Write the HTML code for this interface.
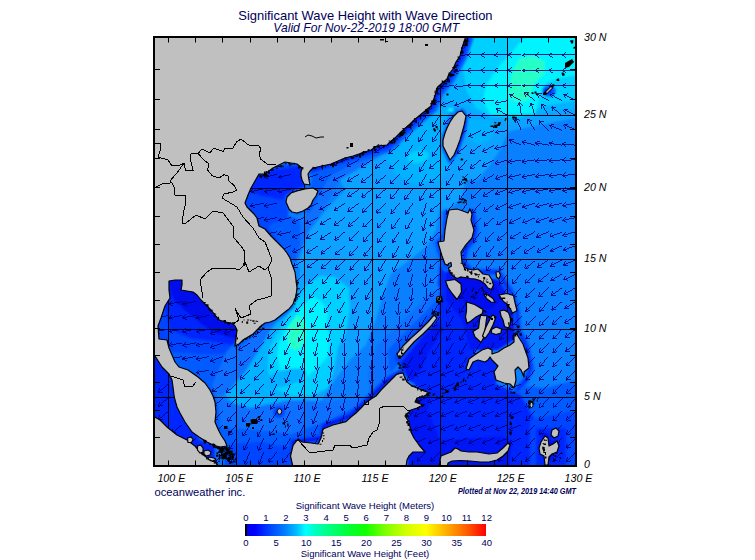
<!DOCTYPE html>
<html><head><meta charset="utf-8"><title>Significant Wave Height</title>
<style>
html,body{margin:0;padding:0;background:#fff;}
body{width:755px;height:560px;overflow:hidden;font-family:"Liberation Sans",sans-serif;}
svg{display:block}
text{font-family:"Liberation Sans",sans-serif;}
</style></head><body>
<svg width="755" height="560" viewBox="0 0 755 560">
<defs>
<clipPath id="mapclip"><rect x="154" y="37" width="422" height="429"/></clipPath>
<filter id="b1" x="-20%" y="-20%" width="140%" height="140%"><feGaussianBlur stdDeviation="1.0"/></filter>
<filter id="b2" x="-20%" y="-20%" width="140%" height="140%"><feGaussianBlur stdDeviation="3"/></filter>
<linearGradient id="cbar" x1="0" x2="1" y1="0" y2="0">
<stop offset="0.0000" stop-color="#0000e8"/>
<stop offset="0.0417" stop-color="#0000ff"/>
<stop offset="0.0833" stop-color="#0030ff"/>
<stop offset="0.1667" stop-color="#0080ff"/>
<stop offset="0.2167" stop-color="#00c0ff"/>
<stop offset="0.2500" stop-color="#00ffff"/>
<stop offset="0.2917" stop-color="#00ffc0"/>
<stop offset="0.3333" stop-color="#00ff90"/>
<stop offset="0.4167" stop-color="#00ff40"/>
<stop offset="0.5000" stop-color="#10ff00"/>
<stop offset="0.5833" stop-color="#80ff00"/>
<stop offset="0.6667" stop-color="#d0ff00"/>
<stop offset="0.7500" stop-color="#ffff00"/>
<stop offset="0.8000" stop-color="#ffd000"/>
<stop offset="0.8333" stop-color="#ffb000"/>
<stop offset="0.9167" stop-color="#ff6000"/>
<stop offset="1.0000" stop-color="#ff0000"/>
</linearGradient>
</defs>
<rect width="755" height="560" fill="#fff"/>
<g clip-path="url(#mapclip)">
<rect x="153" y="36" width="424" height="431" fill="#0a80ff"/>
<g filter="url(#b1)">

<path d="M335,172 L377,150 L400,150 L425,140 L445,150 L447,175 L441,200 L436,230 L427,246 L410,260 L391,274 L383,295 L376,320 L366,345 L350,360 L335,380 L322,400 L290,412 L255,398 L240,375 L250,350 L270,330 L296,300 L300,270 L295,255 L310,230 L330,205 L345,190Z" fill="#08a2ff"/>
<path d="M440,150 L462,150 L466,175 L463,196 L452,207 L441,212Z" fill="#08a2ff"/>
<path d="M436,90 L455,60 L466,36 L577,36 L577,118 L545,124 L507,132 L470,140 L466,112 L455,108 L440,118 L425,135 L410,150 L395,150 L400,135 L420,112Z" fill="#08a2ff"/>
<path d="M450,80 L462,50 L470,36 L577,36 L577,108 L540,114 L505,124 L480,118 L468,108 L456,104 L445,100Z" fill="#00b2ff"/>
<path d="M462,60 L470,36 L577,36 L577,100 L545,106 L520,117 L492,117 L476,108 L466,90Z" fill="#00d0ff"/>
<path d="M486,85 L500,65 L525,37 L577,37 L577,75 L560,78 L548,82 L540,95 L535,114 L490,114 L483,100Z" fill="#04f4ff"/>
<path d="M513,70 L520,58 L535,56 L545,62 L544,74 L534,84 L529,100 L518,102 L508,98 L510,84Z" fill="#28ffc8"/>
<ellipse cx="549" cy="91" rx="7" ry="6" fill="#005cff" transform="rotate(0 549 91)"/>
<ellipse cx="548" cy="91" rx="4" ry="3" fill="#0028ff" transform="rotate(0 548 91)"/>
<path d="M405,135 L420,122 L440,105 L452,106 L446,122 L442,140 L446,155 L450,165 L440,180 L415,185 L395,175 L388,160 L392,148Z" fill="#00b2ff"/>
<path d="M466,115 L507,118 L507,135 L500,150 L490,165 L478,180 L462,180 L455,162 L462,140Z" fill="#08a2ff"/>
<path d="M468,118 L492,119 L492,138 L480,146 L468,140Z" fill="#00b2ff"/>
<ellipse cx="451" cy="110" rx="3" ry="2" fill="#04f4ff" transform="rotate(0 451 110)"/>
<ellipse cx="417" cy="157" rx="16" ry="9" fill="#00b2ff" transform="rotate(-10 417 157)"/>
<ellipse cx="418" cy="157" rx="11" ry="6" fill="#00d0ff" transform="rotate(-10 418 157)"/>
<path d="M250,345 L270,330 L290,312 L306,285 L320,276 L335,278 L348,288 L345,321 L327,337 L317,368 L309,383 L300,400 L270,412 L240,410 L225,395 L235,372Z" fill="#00b2ff"/>
<path d="M278,332 L290,312 L306,285 L320,276 L335,277 L349,288 L350,310 L346,332 L338,348 L334,370 L328,388 L312,396 L290,396 L274,388 L268,372 L268,350Z" fill="#00d0ff"/>
<path d="M313,296 L322,302 L328,312 L327,326 L330,340 L328,356 L318,368 L304,378 L290,381 L281,372 L277,356 L279,342 L285,330 L293,318 L302,306Z" fill="#04f4ff"/>
<path d="M297,316 L304,319 L306,330 L304,342 L298,350 L290,348 L287,338 L289,326Z" fill="#28ffc8"/>
<path d="M313,168 L345,158 L377,146 L395,138 L400,145 L380,156 L360,168 L340,180 L328,200 L320,215 L308,232 L298,262 L290,258 L296,235 L305,215 L318,192 L311,186Z" fill="#0a70ff"/>
<path d="M313,168 L345,158 L377,146 L380,152 L350,165 L330,176 L320,192 L312,210 L305,214 L318,192 L311,186Z" fill="#005cff"/>
<path d="M245,168 L305,163 L306,188 L290,198 L288,214 L292,236 L296,262 L286,256 L262,232 L243,205Z" fill="#0044ff"/>
<path d="M255,172 L302,166 L304,186 L290,192 L283,200 L262,196 L250,192Z" fill="#0028ff"/>
<path d="M268,226 L290,216 L300,220 L300,245 L294,262 L284,250Z" fill="#005cff"/>
<path d="M155,278 L200,278 L240,325 L245,372 L215,400 L175,372 L155,345Z" fill="#005cff"/>
<path d="M155,278 L200,278 L240,325 L238,354 L200,354 L172,352 L155,340Z" fill="#0044ff"/>
<path d="M163,278 L200,278 L238,325 L238,346 L215,342 L190,338 L170,330 L164,305Z" fill="#0028ff"/>
<path d="M168,279 L184,279 L195,292 L225,320 L237,328 L237,340 L212,332 L190,315 L175,302 L170,292Z" fill="#0010ec"/>
<path d="M226,352 L240,338 L262,322 L275,322 L262,345 L245,372 L228,392 L216,398 L212,385Z" fill="#0a70ff"/>
<path d="M153,350 L175,375 L180,410 L200,440 L230,450 L225,467 L153,467Z" fill="#0028ff"/>
<path d="M215,398 L250,408 L290,400 L330,402 L377,394 L377,430 L300,445 L290,467 L215,467Z" fill="#0a70ff"/>
<path d="M218,428 L255,430 L292,434 L330,420 L365,402 L385,385 L400,372 L395,395 L360,420 L320,445 L292,467 L225,467Z" fill="#005cff"/>
<path d="M225,445 L260,442 L292,448 L292,467 L225,467Z" fill="#0044ff"/>
<ellipse cx="279" cy="412" rx="6" ry="6" fill="#0044ff" transform="rotate(0 279 412)"/>
<ellipse cx="285" cy="378" rx="22" ry="8" fill="#00b2ff" transform="rotate(-15 285 378)"/>
<path d="M378,345 L432,292 L446,290 L440,322 L400,365 L385,385 L370,395 L368,372Z" fill="#0a70ff"/>
<path d="M388,350 L437,300 L443,306 L438,322 L400,363 L390,372Z" fill="#005cff"/>
<path d="M399,362 L437,316 L440,290 L446,270 L470,300 L478,340 L470,372 L445,392 L425,395 L405,375Z" fill="#0028ff"/>
<path d="M399,362 L420,336 L436,318 L444,330 L430,350 L420,372 L410,382Z" fill="#0018f4"/>
<path d="M440,262 L465,276 L470,300 L446,300 L438,285Z" fill="#0028ff"/>
<path d="M446,264 L470,276 L500,280 L516,312 L520,336 L498,350 L470,350 L462,320 L446,300Z" fill="#0018f4"/>
<path d="M458,280 L472,276 L496,284 L502,300 L490,310 L466,304 L458,294Z" fill="#0010ec"/>
<path d="M466,368 L478,358 L492,356 L500,366 L496,384 L470,380Z" fill="#0028ff"/>
<path d="M408,395 L445,388 L470,372 L496,384 L515,392 L540,400 L548,430 L540,467 L408,467Z" fill="#0028ff"/>
<path d="M408,395 L432,395 L428,410 L440,440 L440,467 L408,467Z" fill="#0018f4"/>
<path d="M440,440 L500,436 L512,440 L510,467 L440,467Z" fill="#0018f4"/>
<path d="M515,385 L545,388 L577,380 L577,467 L535,467 L535,420Z" fill="#005cff"/>
<path d="M530,420 L577,410 L577,467 L530,467Z" fill="#0044ff"/>
<path d="M536,428 L566,428 L566,467 L536,467Z" fill="#0028ff"/>
<path d="M472,212 L475,230 L473,240 L466,248 L463,262 L472,272 L498,272 L512,294 L517,312 L518,330 L526,345 L531,368 L526,380 L517,390" fill="none" stroke="#005cff" stroke-width="7" stroke-linejoin="round" stroke-linecap="round"/>
<path d="M472,212 L475,230 L473,240 L466,248 L463,262 L472,272 L498,272 L512,294 L517,312 L518,330 L526,345 L531,368 L526,380 L517,390" fill="none" stroke="#0028ff" stroke-width="3" stroke-linejoin="round" stroke-linecap="round"/>
<path d="M446,212 L444,235 L437,243 L441,258 L446,268" fill="none" stroke="#0a70ff" stroke-width="7" stroke-linejoin="round" stroke-linecap="round"/>
<path d="M446,212 L444,235 L437,243 L441,258 L446,268" fill="none" stroke="#0044ff" stroke-width="3" stroke-linejoin="round" stroke-linecap="round"/>
<path d="M466,38 L460,56 L447,79 L436,92 L431,106 L410,124 L387,145 L371,150 L345,158 L313,168" fill="none" stroke="#005cff" stroke-width="15" stroke-linejoin="round" stroke-linecap="round"/>
<path d="M466,38 L460,56 L447,79 L436,92 L431,106 L410,124 L387,145 L371,150 L345,158 L313,168" fill="none" stroke="#0028ff" stroke-width="8" stroke-linejoin="round" stroke-linecap="round"/>
<path d="M462,111 L466,118 L463,133 L457,150 L450,161 L444,148 L444,136 L452,120 L462,111" fill="none" stroke="#005cff" stroke-width="5" stroke-linejoin="round" stroke-linecap="round"/>
<path d="M464,114 L465,124 L461,140 L455,155" fill="none" stroke="#0028ff" stroke-width="3" stroke-linejoin="round" stroke-linecap="round"/>
<path d="M293,460 L293,442 L322,438 L324,426 L350,416 L372,396 L388,380 L402,372" fill="none" stroke="#0044ff" stroke-width="7" stroke-linejoin="round" stroke-linecap="round"/>
<path d="M293,460 L293,442 L322,438 L324,426 L350,416 L372,396 L388,380 L402,372" fill="none" stroke="#0010ec" stroke-width="3" stroke-linejoin="round" stroke-linecap="round"/>
<path d="M190,374 L210,390 L216,410 L217,428 L227,446" fill="none" stroke="#005cff" stroke-width="6" stroke-linejoin="round" stroke-linecap="round"/>
<path d="M236,346 L250,336 L264,324 L280,316 L292,306" fill="none" stroke="#005cff" stroke-width="5" stroke-linejoin="round" stroke-linecap="round"/>
<path d="M287,197 L297,191 L313,188 L318,191 L313,200 L308,208 L297,213 L289,209 L287,197" fill="none" stroke="#005cff" stroke-width="4" stroke-linejoin="round" stroke-linecap="round"/>
<path d="M399,358 L420,332 L436,316" fill="none" stroke="#0044ff" stroke-width="9" stroke-linejoin="round" stroke-linecap="round"/>
<path d="M545,436 L548,446 L556,444 L548,458" fill="none" stroke="#0010ec" stroke-width="8" stroke-linejoin="round" stroke-linecap="round"/>
</g>
<g stroke="#000008" stroke-width="1" shape-rendering="crispEdges">
<line x1="168.5" y1="36" x2="168.5" y2="467"/>
<line x1="236.5" y1="36" x2="236.5" y2="467"/>
<line x1="304.5" y1="36" x2="304.5" y2="467"/>
<line x1="372.5" y1="36" x2="372.5" y2="467"/>
<line x1="440.5" y1="36" x2="440.5" y2="467"/>
<line x1="507.5" y1="36" x2="507.5" y2="467"/>
<line x1="153" y1="115.5" x2="577" y2="115.5"/>
<line x1="153" y1="188.5" x2="577" y2="188.5"/>
<line x1="153" y1="259.5" x2="577" y2="259.5"/>
<line x1="153" y1="329.5" x2="577" y2="329.5"/>
<line x1="153" y1="397.5" x2="577" y2="397.5"/>
</g>
<g stroke="#000078" stroke-width="0.85" fill="none" stroke-linecap="butt" shape-rendering="crispEdges">
<path d="M168.6,411.1L158.3,419.8M158.3,419.8L159.6,415.4M158.3,419.8L162.8,419.2M168.6,397.5L158.3,406.2M158.3,406.2L159.6,401.8M158.3,406.2L162.8,405.6M168.6,383.9L158.3,392.6M158.3,392.6L159.6,388.2M158.3,392.6L162.8,392.0M168.6,329.2L155.3,331.6M155.3,331.6L158.7,328.4M155.3,331.6L159.5,333.4M168.6,315.5L155.3,317.8M155.3,317.8L158.7,314.7M155.3,317.8L159.5,319.6M182.2,424.7L171.8,433.3M171.8,433.3L173.2,428.9M171.8,433.3L176.4,432.8M182.2,356.6L168.9,359.0M168.9,359.0L172.2,355.8M168.9,359.0L173.1,360.8M182.2,342.9L168.9,345.3M168.9,345.3L172.2,342.2M168.9,345.3L173.1,347.1M182.2,329.2L168.9,331.6M168.9,331.6L172.2,328.4M168.9,331.6L173.1,333.4M182.2,315.5L168.9,317.8M168.9,317.8L172.2,314.7M168.9,317.8L173.1,319.6M182.2,301.6L168.9,304.0M168.9,304.0L172.2,300.8M168.9,304.0L173.1,305.8M195.7,438.2L185.4,446.9M185.4,446.9L186.7,442.5M185.4,446.9L190.0,446.3M195.7,356.6L182.4,359.0M182.4,359.0L185.8,355.8M182.4,359.0L186.7,360.8M195.7,342.9L182.4,345.3M182.4,345.3L185.8,342.2M182.4,345.3L186.7,347.1M195.7,329.2L182.4,331.6M182.4,331.6L185.8,328.4M182.4,331.6L186.7,333.4M195.7,315.5L182.4,317.8M182.4,317.8L185.8,314.7M182.4,317.8L186.7,319.6M195.7,301.6L182.4,304.0M182.4,304.0L185.8,300.8M182.4,304.0L186.7,305.8M209.3,451.8L199.0,460.4M199.0,460.4L200.3,456.0M199.0,460.4L203.5,459.9M209.3,370.3L196.0,372.6M196.0,372.6L199.4,369.5M196.0,372.6L200.2,374.4M209.3,356.6L196.0,359.0M196.0,359.0L199.4,355.8M196.0,359.0L200.2,360.8M209.3,342.9L196.0,345.3M196.0,345.3L199.4,342.2M196.0,345.3L200.2,347.1M209.3,329.2L196.0,331.6M196.0,331.6L199.4,328.4M196.0,331.6L200.2,333.4M209.3,315.5L196.0,317.8M196.0,317.8L199.4,314.7M196.0,317.8L200.2,319.6M222.9,451.8L215.3,463.0M215.3,463.0L215.4,458.4M215.3,463.0L219.6,461.2M222.9,424.7L213.8,434.7M213.8,434.7L214.6,430.2M213.8,434.7L218.3,433.5M222.9,411.1L213.2,420.5M213.2,420.5L214.2,416.0M213.2,420.5L217.7,419.6M222.9,397.5L212.5,406.2M212.5,406.2L213.9,401.8M212.5,406.2L217.1,405.6M222.9,383.9L212.0,391.9M212.0,391.9L213.6,387.6M212.0,391.9L216.6,391.6M222.9,370.3L210.2,374.9M210.2,374.9L213.0,371.2M210.2,374.9L214.7,375.9M222.9,356.6L210.2,361.3M210.2,361.3L213.0,357.6M210.2,361.3L214.7,362.3M222.9,342.9L210.2,347.6M210.2,347.6L213.0,343.9M210.2,347.6L214.7,348.6M222.9,329.2L210.2,333.8M210.2,333.8L213.0,330.2M210.2,333.8L214.7,334.9M236.4,451.8L229.9,463.6M229.9,463.6L229.6,459.0M229.9,463.6L234.0,461.4M236.4,438.2L229.1,449.5M229.1,449.5L229.1,444.9M229.1,449.5L233.3,447.7M236.4,424.7L228.3,435.4M228.3,435.4L228.6,430.9M228.3,435.4L232.6,433.9M236.4,411.1L227.6,421.3M227.6,421.3L228.2,416.7M227.6,421.3L232.0,420.0M236.4,397.5L226.9,407.1M226.9,407.1L227.9,402.6M226.9,407.1L231.4,406.1M236.4,383.9L226.3,392.8M226.3,392.8L227.5,388.4M226.3,392.8L230.8,392.1M236.4,370.3L223.8,374.9M223.8,374.9L226.5,371.2M223.8,374.9L228.2,375.9M236.4,356.6L223.8,361.3M223.8,361.3L226.5,357.6M223.8,361.3L228.2,362.3M236.4,329.2L223.8,333.8M223.8,333.8L226.5,330.2M223.8,333.8L228.2,334.9M250.0,451.8L244.5,464.1M244.5,464.1L243.8,459.6M244.5,464.1L248.4,461.6M250.0,438.2L243.7,450.1M243.7,450.1L243.3,445.6M243.7,450.1L247.7,447.9M250.0,424.7L242.9,436.1M242.9,436.1L242.8,431.5M242.9,436.1L247.0,434.2M250.0,411.1L242.1,422.0M242.1,422.0L242.3,417.4M242.1,422.0L246.4,420.4M250.0,397.5L241.3,407.9M241.3,407.9L241.9,403.3M241.3,407.9L245.7,406.5M250.0,383.9L240.6,393.6M240.6,393.6L241.5,389.1M240.6,393.6L245.1,392.6M250.0,370.3L240.0,379.3M240.0,379.3L241.2,374.9M240.0,379.3L244.5,378.6M250.0,356.6L239.5,365.1M239.5,365.1L241.0,360.8M239.5,365.1L244.1,364.7M250.0,342.9L238.6,350.1M238.6,350.1L240.5,345.9M238.6,350.1L243.2,350.2M263.6,451.8L259.2,464.5M259.2,464.5L258.1,460.1M259.2,464.5L262.8,461.7M263.6,438.2L258.3,450.6M258.3,450.6L257.5,446.1M258.3,450.6L262.1,448.1M263.6,424.7L257.5,436.7M257.5,436.7L257.0,432.1M257.5,436.7L261.4,434.4M263.6,411.1L256.6,422.7M256.6,422.7L256.5,418.1M256.6,422.7L260.8,420.7M263.6,397.5L255.8,408.6M255.8,408.6L256.0,404.0M255.8,408.6L260.1,406.9M263.6,383.9L255.1,394.4M255.1,394.4L255.6,389.8M255.1,394.4L259.5,393.0M263.6,370.3L254.4,380.2M254.4,380.2L255.2,375.6M254.4,380.2L258.8,379.1M263.6,356.6L254.7,366.8M254.7,366.8L255.4,362.3M254.7,366.8L259.2,365.6M263.6,342.9L253.6,352.0M253.6,352.0L254.7,347.5M253.6,352.0L258.1,351.3M263.6,329.2L252.5,337.0M252.5,337.0L254.3,332.7M252.5,337.0L257.1,336.8M263.6,217.5L250.4,220.3M250.4,220.3L253.6,217.1M250.4,220.3L254.7,222.0M263.6,203.2L250.4,206.0M250.4,206.0L253.6,202.8M250.4,206.0L254.7,207.7M263.6,188.9L250.4,191.7M250.4,191.7L253.6,188.4M250.4,191.7L254.7,193.3M277.2,451.8L268.5,462.1M268.5,462.1L269.0,457.5M268.5,462.1L272.9,460.8M277.2,438.2L268.9,448.9M268.9,448.9L269.3,444.3M268.9,448.9L273.3,447.4M277.2,424.7L269.4,435.7M269.4,435.7L269.6,431.1M269.4,435.7L273.7,434.0M277.2,411.1L269.9,422.5M269.9,422.5L269.9,417.9M269.9,422.5L274.1,420.6M277.2,397.5L270.4,409.2M270.4,409.2L270.2,404.6M270.4,409.2L274.5,407.1M277.2,383.9L270.9,395.9M270.9,395.9L270.5,391.3M270.9,395.9L274.9,393.6M277.2,370.3L271.5,382.5M271.5,382.5L270.8,378.0M271.5,382.5L275.4,380.1M277.2,356.6L270.2,368.2M270.2,368.2L270.0,363.6M270.2,368.2L274.3,366.2M277.2,342.9L268.8,353.6M268.8,353.6L269.2,349.0M268.8,353.6L273.2,352.1M277.2,329.2L267.6,338.8M267.6,338.8L268.6,334.3M267.6,338.8L272.1,337.8M277.2,231.7L264.0,234.5M264.0,234.5L267.2,231.2M264.0,234.5L268.2,236.1M277.2,217.5L264.0,220.3M264.0,220.3L267.2,217.1M264.0,220.3L268.2,222.0M277.2,203.2L264.0,206.0M264.0,206.0L267.2,202.8M264.0,206.0L268.2,207.7M277.2,188.9L264.0,191.7M264.0,191.7L267.2,188.4M264.0,191.7L268.2,193.3M277.2,174.4L264.0,177.2M264.0,177.2L267.2,174.0M264.0,177.2L268.2,178.9M290.7,451.8L282.7,462.6M282.7,462.6L283.0,458.0M282.7,462.6L287.0,461.0M290.7,438.2L283.2,449.4M283.2,449.4L283.3,444.8M283.2,449.4L287.4,447.6M290.7,424.7L283.7,436.2M283.7,436.2L283.6,431.6M283.7,436.2L287.8,434.2M290.7,411.1L284.2,422.9M284.2,422.9L283.9,418.3M284.2,422.9L288.2,420.7M290.7,397.5L284.7,409.6M284.7,409.6L284.2,405.0M284.7,409.6L288.7,407.3M290.7,383.9L285.2,396.3M285.2,396.3L284.5,391.7M285.2,396.3L289.1,393.7M290.7,370.3L285.8,382.9M285.8,382.9L284.9,378.3M285.8,382.9L289.5,380.2M290.7,356.6L285.9,369.2M285.9,369.2L284.9,364.7M285.9,369.2L289.6,366.5M290.7,342.9L284.4,354.9M284.4,354.9L284.0,350.3M284.4,354.9L288.4,352.6M290.7,329.2L283.0,340.3M283.0,340.3L283.1,335.7M283.0,340.3L287.3,338.6M290.7,315.5L281.7,325.5M281.7,325.5L282.4,320.9M281.7,325.5L286.1,324.3M290.7,245.8L278.4,251.4M278.4,251.4L280.9,247.5M278.4,251.4L283.0,252.1M290.7,231.7L277.5,234.5M277.5,234.5L280.8,231.2M277.5,234.5L281.8,236.1M290.7,217.5L277.5,220.3M277.5,220.3L280.8,217.1M277.5,220.3L281.8,222.0M290.7,188.9L277.5,191.7M277.5,191.7L280.8,188.4M277.5,191.7L281.8,193.3M290.7,174.4L277.5,177.2M277.5,177.2L280.8,174.0M277.5,177.2L281.8,178.9M304.3,424.7L298.0,436.6M298.0,436.6L297.6,432.0M298.0,436.6L302.0,434.4M304.3,411.1L298.5,423.3M298.5,423.3L297.9,418.7M298.5,423.3L302.4,420.9M304.3,397.5L299.0,409.9M299.0,409.9L298.2,405.4M299.0,409.9L302.8,407.4M304.3,383.9L299.6,396.6M299.6,396.6L298.6,392.1M299.6,396.6L303.3,393.8M304.3,370.3L300.1,383.1M300.1,383.1L298.9,378.7M300.1,383.1L303.7,380.2M304.3,356.6L301.7,369.9M301.7,369.9L300.0,365.6M301.7,369.9L304.9,366.6M304.3,342.9L300.1,355.8M300.1,355.8L298.9,351.3M300.1,355.8L303.7,352.9M304.3,329.2L298.6,341.5M298.6,341.5L298.0,336.9M298.6,341.5L302.5,339.0M304.3,315.5L297.1,326.9M297.1,326.9L297.1,322.3M297.1,326.9L301.3,325.0M304.3,301.6L295.8,312.1M295.8,312.1L296.3,307.6M295.8,312.1L300.2,310.7M304.3,287.8L295.3,297.8M295.3,297.8L296.0,293.3M295.3,297.8L299.7,296.6M304.3,273.8L294.8,283.4M294.8,283.4L295.7,278.9M294.8,283.4L299.3,282.4M304.3,259.9L292.9,267.0M292.9,267.0L294.8,262.8M292.9,267.0L297.5,267.1M304.3,245.8L292.5,252.4M292.5,252.4L294.7,248.3M292.5,252.4L297.1,252.7M304.3,231.7L292.2,237.6M292.2,237.6L294.5,233.7M292.2,237.6L296.7,238.2M304.3,217.5L291.9,222.8M291.9,222.8L294.4,219.0M291.9,222.8L296.4,223.6M304.3,188.9L291.3,192.4M291.3,192.4L294.3,188.9M291.3,192.4L295.6,193.8M317.9,438.2L311.7,450.2M311.7,450.2L311.3,445.7M311.7,450.2L315.7,447.9M317.9,424.7L312.3,437.0M312.3,437.0L311.6,432.4M312.3,437.0L316.2,434.5M317.9,411.1L312.8,423.6M312.8,423.6L311.9,419.1M312.8,423.6L316.6,421.0M317.9,397.5L313.4,410.2M313.4,410.2L312.3,405.8M313.4,410.2L317.0,407.4M317.9,383.9L313.9,396.8M313.9,396.8L312.7,392.4M313.9,396.8L317.4,393.9M317.9,370.3L314.5,383.4M314.5,383.4L313.0,379.0M314.5,383.4L317.9,380.3M317.9,356.6L316.8,370.1M316.8,370.1L314.6,366.0M316.8,370.1L319.6,366.5M317.9,342.9L314.9,356.1M314.9,356.1L313.3,351.8M314.9,356.1L318.2,352.9M317.9,329.2L313.1,341.9M313.1,341.9L312.1,337.4M313.1,341.9L316.8,339.1M317.9,315.5L311.4,327.3M311.4,327.3L311.1,322.7M311.4,327.3L315.5,325.1M317.9,301.6L309.9,312.5M309.9,312.5L310.1,307.9M309.9,312.5L314.2,310.9M317.9,287.8L309.2,298.1M309.2,298.1L309.7,293.5M309.2,298.1L313.6,296.8M317.9,273.8L308.5,283.5M308.5,283.5L309.4,279.0M308.5,283.5L313.0,282.5M317.9,259.9L307.0,267.9M307.0,267.9L308.6,263.6M307.0,267.9L311.6,267.6M317.9,245.8L306.6,253.3M306.6,253.3L308.4,249.0M306.6,253.3L311.2,253.2M317.9,231.7L306.2,238.5M306.2,238.5L308.3,234.4M306.2,238.5L310.8,238.7M317.9,217.5L305.9,223.7M305.9,223.7L308.2,219.7M305.9,223.7L310.5,224.2M317.9,203.2L305.6,208.8M305.6,208.8L308.1,204.9M305.6,208.8L310.1,209.5M317.9,174.4L305.1,178.7M305.1,178.7L307.9,175.1M305.1,178.7L309.5,179.8M331.4,411.1L327.2,423.9M327.2,423.9L326.0,419.5M327.2,423.9L330.8,421.0M331.4,397.5L327.7,410.5M327.7,410.5L326.4,406.1M327.7,410.5L331.2,407.5M331.4,383.9L328.3,397.0M328.3,397.0L326.8,392.7M328.3,397.0L331.6,393.9M331.4,370.3L328.9,383.5M328.9,383.5L327.1,379.3M328.9,383.5L332.1,380.2M331.4,356.6L331.0,370.1M331.0,370.1L328.6,366.2M331.0,370.1L333.6,366.4M331.4,342.9L329.7,356.3M329.7,356.3L327.7,352.2M329.7,356.3L332.7,352.8M331.4,329.2L327.7,342.2M327.7,342.2L326.4,337.8M327.7,342.2L331.2,339.2M331.4,315.5L325.8,327.7M325.8,327.7L325.1,323.2M325.8,327.7L329.7,325.3M331.4,301.6L324.0,312.9M324.0,312.9L324.0,308.3M324.0,312.9L328.2,311.1M331.4,287.8L323.1,298.3M323.1,298.3L323.5,293.8M323.1,298.3L327.4,296.9M331.4,273.8L322.2,283.7M322.2,283.7L323.0,279.2M322.2,283.7L326.7,282.6M331.4,259.9L321.3,268.7M321.3,268.7L322.5,264.3M321.3,268.7L325.8,268.1M331.4,245.8L320.8,254.1M320.8,254.1L322.3,249.8M320.8,254.1L325.4,253.7M331.4,231.7L320.4,239.4M320.4,239.4L322.1,235.2M320.4,239.4L325.0,239.3M331.4,217.5L320.0,224.7M320.0,224.7L321.9,220.5M320.0,224.7L324.6,224.7M331.4,203.2L319.6,209.8M319.6,209.8L321.8,205.7M319.6,209.8L324.2,210.1M331.4,188.9L319.2,194.6M319.2,194.6L321.6,190.7M319.2,194.6L323.8,195.2M331.4,174.4L319.0,179.7M319.0,179.7L321.6,175.9M319.0,179.7L323.5,180.5M345.0,411.1L341.5,424.1M341.5,424.1L340.1,419.8M341.5,424.1L344.9,421.1M345.0,397.5L342.1,410.7M342.1,410.7L340.5,406.4M342.1,410.7L345.4,407.5M345.0,383.9L342.7,397.2M342.7,397.2L340.9,393.0M342.7,397.2L345.8,393.9M345.0,370.3L343.2,383.7M343.2,383.7L341.3,379.5M343.2,383.7L346.2,380.2M345.0,356.6L344.5,370.1M344.5,370.1L342.2,366.2M344.5,370.1L347.2,366.4M345.0,342.9L344.5,356.4M344.5,356.4L342.2,352.5M344.5,356.4L347.2,352.7M345.0,329.2L342.3,342.5M342.3,342.5L340.6,338.2M342.3,342.5L345.5,339.2M345.0,315.5L340.1,328.0M340.1,328.0L339.2,323.5M340.1,328.0L343.9,325.3M345.0,301.6L338.1,313.2M338.1,313.2L337.9,308.6M338.1,313.2L342.2,311.2M345.0,287.8L337.0,298.6M337.0,298.6L337.2,294.0M337.0,298.6L341.3,297.0M345.0,273.8L335.9,283.8M335.9,283.8L336.7,279.3M335.9,283.8L340.4,282.7M345.0,259.9L335.5,269.5M335.5,269.5L336.5,265.0M335.5,269.5L340.0,268.5M345.0,245.8L335.1,254.9M335.1,254.9L336.2,250.5M335.1,254.9L339.6,254.2M345.0,231.7L334.6,240.3M334.6,240.3L336.0,235.9M334.6,240.3L339.2,239.8M345.0,217.5L334.2,225.5M334.2,225.5L335.8,221.2M334.2,225.5L338.7,225.2M345.0,203.2L333.8,210.7M333.8,210.7L335.6,206.5M333.8,210.7L338.4,210.6M345.0,188.9L333.3,195.6M333.3,195.6L335.4,191.5M333.3,195.6L337.9,195.8M345.0,174.4L333.0,180.6M333.0,180.6L335.3,176.6M333.0,180.6L337.6,181.1M345.0,159.9L332.7,165.5M332.7,165.5L335.2,161.6M332.7,165.5L337.3,166.1M358.6,397.5L356.5,410.9M356.5,410.9L354.6,406.7M356.5,410.9L359.5,407.4M358.6,383.9L357.1,397.3M357.1,397.3L355.0,393.2M357.1,397.3L360.0,393.8M358.6,370.3L357.2,383.7M357.2,383.7L355.1,379.6M357.2,383.7L360.1,380.1M358.6,356.6L358.1,370.1M358.1,370.1L355.7,366.2M358.1,370.1L360.7,366.4M358.6,342.9L358.1,356.4M358.1,356.4L355.7,352.5M358.1,356.4L360.7,352.7M358.6,329.2L357.4,342.7M357.4,342.7L355.2,338.6M357.4,342.7L360.2,339.0M358.6,315.5L354.9,328.5M354.9,328.5L353.6,324.1M354.9,328.5L358.4,325.4M358.6,301.6L352.6,313.7M352.6,313.7L352.1,309.2M352.6,313.7L356.6,311.4M358.6,287.8L351.3,299.1M351.3,299.1L351.3,294.5M351.3,299.1L355.5,297.2M358.6,273.8L350.0,284.3M350.0,284.3L350.5,279.7M350.0,284.3L354.4,282.9M358.6,259.9L349.9,270.2M349.9,270.2L350.5,265.6M349.9,270.2L354.3,268.9M358.6,245.8L349.4,255.7M349.4,255.7L350.2,251.2M349.4,255.7L353.8,254.6M358.6,231.7L348.9,241.1M348.9,241.1L349.9,236.6M348.9,241.1L353.4,240.2M358.6,217.5L348.4,226.4M348.4,226.4L349.7,221.9M348.4,226.4L352.9,225.7M358.6,203.2L347.9,211.5M347.9,211.5L349.4,207.2M347.9,211.5L352.5,211.1M358.6,188.9L347.5,196.6M347.5,196.6L349.2,192.3M347.5,196.6L352.1,196.4M358.6,174.4L347.1,181.6M347.1,181.6L349.1,177.4M347.1,181.6L351.7,181.6M358.6,159.9L346.8,166.4M346.8,166.4L348.9,162.3M346.8,166.4L351.4,166.7M372.1,383.9L370.7,397.3M370.7,397.3L368.7,393.2M370.7,397.3L373.6,393.8M372.1,370.3L370.7,383.7M370.7,383.7L368.7,379.6M370.7,383.7L373.6,380.1M372.1,356.6L371.7,370.1M371.7,370.1L369.3,366.2M371.7,370.1L374.3,366.4M372.1,342.9L371.7,356.4M371.7,356.4L369.3,352.5M371.7,356.4L374.3,352.7M372.1,329.2L371.7,342.7M371.7,342.7L369.3,338.8M371.7,342.7L374.3,338.9M372.1,315.5L369.8,328.7M369.8,328.7L368.0,324.5M369.8,328.7L372.9,325.4M372.1,301.6L367.2,314.2M367.2,314.2L366.3,309.7M367.2,314.2L370.9,311.5M372.1,287.8L365.6,299.6M365.6,299.6L365.3,295.0M365.6,299.6L369.7,297.4M372.1,273.8L364.1,284.7M364.1,284.7L364.4,280.1M364.1,284.7L368.4,283.1M372.1,259.9L364.3,270.9M364.3,270.9L364.5,266.3M364.3,270.9L368.6,269.2M372.1,245.8L363.7,256.4M363.7,256.4L364.2,251.8M363.7,256.4L368.1,254.9M372.1,231.7L363.2,241.8M363.2,241.8L363.9,237.3M363.2,241.8L367.6,240.6M372.1,217.5L362.7,227.1M362.7,227.1L363.6,222.6M362.7,227.1L367.2,226.1M372.1,203.2L362.2,212.3M362.2,212.3L363.3,207.9M362.2,212.3L366.7,211.6M372.1,188.9L361.7,197.4M361.7,197.4L363.1,193.1M361.7,197.4L366.3,196.9M372.1,174.4L361.3,182.4M361.3,182.4L362.9,178.1M361.3,182.4L365.9,182.2M372.1,159.9L360.9,167.3M360.9,167.3L362.7,163.1M360.9,167.3L365.5,167.3M385.7,370.3L384.3,383.7M384.3,383.7L382.2,379.6M384.3,383.7L387.2,380.1M385.7,356.6L385.2,370.1M385.2,370.1L382.9,366.2M385.2,370.1L387.9,366.4M385.7,342.9L385.2,356.4M385.2,356.4L382.9,352.5M385.2,356.4L387.9,352.7M385.7,329.2L385.2,342.7M385.2,342.7L382.9,338.8M385.2,342.7L387.9,338.9M385.7,315.5L385.1,328.9M385.1,328.9L382.8,325.0M385.1,328.9L387.8,325.2M385.7,301.6L382.5,314.7M382.5,314.7L381.0,310.4M382.5,314.7L385.8,311.6M385.7,287.8L380.8,300.3M380.8,300.3L379.9,295.8M380.8,300.3L384.5,297.7M385.7,273.8L379.2,285.7M379.2,285.7L378.9,281.1M379.2,285.7L383.2,283.5M385.7,259.9L378.8,271.4M378.8,271.4L378.6,266.8M378.8,271.4L382.9,269.4M385.7,245.8L378.2,257.0M378.2,257.0L378.3,252.4M378.2,257.0L382.4,255.2M385.7,231.7L377.6,242.5M377.6,242.5L377.9,237.9M377.6,242.5L381.9,240.9M385.7,217.5L377.0,227.8M377.0,227.8L377.6,223.3M377.0,227.8L381.4,226.5M385.7,203.2L376.5,213.1M376.5,213.1L377.3,208.6M376.5,213.1L381.0,212.0M385.7,188.9L376.0,198.2M376.0,198.2L377.0,193.8M376.0,198.2L380.5,197.4M385.7,174.4L375.5,183.3M375.5,183.3L376.8,178.8M375.5,183.3L380.1,182.6M385.7,159.9L375.1,168.2M375.1,168.2L376.6,163.8M375.1,168.2L379.7,167.8M385.7,145.2L374.7,152.9M374.7,152.9L376.4,148.7M374.7,152.9L379.3,152.8M399.3,342.9L398.8,356.4M398.8,356.4L396.4,352.5M398.8,356.4L401.5,352.7M399.3,329.2L398.8,342.7M398.8,342.7L396.4,338.8M398.8,342.7L401.5,338.9M399.3,315.5L398.8,328.9M398.8,328.9L396.4,325.0M398.8,328.9L401.5,325.2M399.3,301.6L397.8,315.1M397.8,315.1L395.7,310.9M397.8,315.1L400.7,311.5M399.3,287.8L396.0,300.9M396.0,300.9L394.5,296.5M396.0,300.9L399.4,297.7M399.3,273.8L394.3,286.4M394.3,286.4L393.4,281.9M394.3,286.4L398.1,283.7M399.3,259.9L393.3,271.9M393.3,271.9L392.7,267.4M393.3,271.9L397.2,269.6M399.3,245.8L392.6,257.6M392.6,257.6L392.4,253.0M392.6,257.6L396.7,255.4M399.3,231.7L392.0,243.1M392.0,243.1L392.0,238.5M392.0,243.1L396.2,241.2M399.3,217.5L391.5,228.5M391.5,228.5L391.7,223.9M391.5,228.5L395.7,226.8M399.3,203.2L390.9,213.8M390.9,213.8L391.3,209.2M390.9,213.8L395.2,212.3M399.3,188.9L390.3,199.0M390.3,199.0L391.0,194.4M390.3,199.0L394.8,197.7M399.3,174.4L389.8,184.0M389.8,184.0L390.7,179.5M389.8,184.0L394.3,183.0M399.3,159.9L389.3,169.0M389.3,169.0L390.5,164.5M389.3,169.0L393.9,168.2M399.3,145.2L388.9,153.8M388.9,153.8L390.3,149.4M388.9,153.8L393.4,153.3M412.9,411.1L405.7,422.6M405.7,422.6L405.6,418.0M405.7,422.6L409.9,420.6M412.9,370.3L405.7,381.7M405.7,381.7L405.6,377.1M405.7,381.7L409.9,379.8M412.9,356.6L405.7,368.1M405.7,368.1L405.6,363.5M405.7,368.1L409.9,366.1M412.9,329.2L405.7,340.7M405.7,340.7L405.6,336.1M405.7,340.7L409.9,338.7M412.9,315.5L405.7,326.9M405.7,326.9L405.6,322.3M405.7,326.9L409.9,325.0M412.9,301.6L405.7,313.1M405.7,313.1L405.6,308.5M405.7,313.1L409.9,311.1M412.9,287.8L411.3,301.2M411.3,301.2L409.3,297.1M411.3,301.2L414.3,297.6M412.9,273.8L409.6,286.9M409.6,286.9L408.1,282.6M409.6,286.9L413.0,283.8M412.9,259.9L407.8,272.4M407.8,272.4L406.9,267.9M407.8,272.4L411.6,269.7M412.9,245.8L407.2,258.0M407.2,258.0L406.5,253.5M407.2,258.0L411.1,255.6M412.9,231.7L406.5,243.6M406.5,243.6L406.1,239.0M406.5,243.6L410.5,241.4M412.9,217.5L405.9,229.1M405.9,229.1L405.7,224.5M405.9,229.1L410.0,227.1M412.9,203.2L405.3,214.4M405.3,214.4L405.4,209.8M405.3,214.4L409.5,212.6M412.9,188.9L404.7,199.6M404.7,199.6L405.1,195.0M404.7,199.6L409.1,198.1M412.9,174.4L404.2,184.7M404.2,184.7L404.7,180.2M404.2,184.7L408.6,183.4M412.9,159.9L403.7,169.7M403.7,169.7L404.5,165.2M403.7,169.7L408.1,168.6M412.9,145.2L405.1,156.3M405.1,156.3L405.3,151.7M405.1,156.3L409.4,154.5M412.9,130.4L405.1,141.5M405.1,141.5L405.3,136.9M405.1,141.5L409.4,139.8M426.4,451.8L416.9,461.3M416.9,461.3L417.8,456.8M416.9,461.3L421.4,460.4M426.4,438.2L413.9,443.3M413.9,443.3L416.6,439.5M413.9,443.3L418.4,444.2M426.4,424.7L413.9,429.7M413.9,429.7L416.6,426.0M413.9,429.7L418.4,430.6M426.4,411.1L413.9,416.2M413.9,416.2L416.6,412.4M413.9,416.2L418.4,417.0M426.4,397.5L413.9,402.6M413.9,402.6L416.6,398.8M413.9,402.6L418.4,403.5M426.4,383.9L413.9,389.0M413.9,389.0L416.6,385.2M413.9,389.0L418.4,389.9M426.4,370.3L413.9,375.4M413.9,375.4L416.6,371.6M413.9,375.4L418.4,376.2M426.4,356.6L419.3,368.1M419.3,368.1L419.2,363.5M419.3,368.1L423.4,366.1M426.4,342.9L419.3,354.4M419.3,354.4L419.2,349.8M419.3,354.4L423.4,352.5M426.4,315.5L419.3,326.9M419.3,326.9L419.2,322.3M419.3,326.9L423.4,325.0M426.4,301.6L419.3,313.1M419.3,313.1L419.2,308.5M419.3,313.1L423.4,311.1M426.4,287.8L426.0,301.3M426.0,301.3L423.6,297.3M426.0,301.3L428.6,297.5M426.4,273.8L424.9,287.3M424.9,287.3L422.8,283.1M424.9,287.3L427.8,283.7M426.4,259.9L425.1,273.3M425.1,273.3L423.0,269.2M425.1,273.3L428.0,269.7M426.4,245.8L424.4,259.2M424.4,259.2L422.5,255.0M424.4,259.2L427.5,255.7M426.4,231.7L423.7,244.9M423.7,244.9L422.1,240.6M423.7,244.9L427.0,241.6M426.4,217.5L423.0,230.6M423.0,230.6L421.6,226.2M423.0,230.6L426.4,227.5M426.4,203.2L422.4,216.1M422.4,216.1L421.1,211.7M422.4,216.1L425.9,213.2M426.4,188.9L419.7,200.5M419.7,200.5L419.4,196.0M419.7,200.5L423.8,198.5M426.4,174.4L419.7,186.1M419.7,186.1L419.4,181.5M419.7,186.1L423.8,184.0M426.4,159.9L419.7,171.5M419.7,171.5L419.4,166.9M419.7,171.5L423.8,169.5M426.4,145.2L418.7,156.3M418.7,156.3L418.8,151.7M418.7,156.3L423.0,154.5M426.4,130.4L418.7,141.5M418.7,141.5L418.8,136.9M418.7,141.5L423.0,139.8M426.4,115.6L418.7,126.6M418.7,126.6L418.8,122.0M418.7,126.6L423.0,124.9M440.0,451.8L430.5,461.3M430.5,461.3L431.4,456.8M430.5,461.3L435.0,460.4M440.0,438.2L427.5,443.3M427.5,443.3L430.1,439.5M427.5,443.3L432.0,444.2M440.0,424.7L427.5,429.7M427.5,429.7L430.1,426.0M427.5,429.7L432.0,430.6M440.0,411.1L427.5,416.2M427.5,416.2L430.1,412.4M427.5,416.2L432.0,417.0M440.0,397.5L427.5,402.6M427.5,402.6L430.1,398.8M427.5,402.6L432.0,403.5M440.0,383.9L427.5,389.0M427.5,389.0L430.1,385.2M427.5,389.0L432.0,389.9M440.0,370.3L427.5,375.4M427.5,375.4L430.1,371.6M427.5,375.4L432.0,376.2M440.0,356.6L432.8,368.1M432.8,368.1L432.8,363.5M432.8,368.1L437.0,366.1M440.0,342.9L432.8,354.4M432.8,354.4L432.8,349.8M432.8,354.4L437.0,352.5M440.0,329.2L432.8,340.7M432.8,340.7L432.8,336.1M432.8,340.7L437.0,338.7M440.0,315.5L432.8,326.9M432.8,326.9L432.8,322.3M432.8,326.9L437.0,325.0M440.0,301.6L432.8,313.1M432.8,313.1L432.8,308.5M432.8,313.1L437.0,311.1M440.0,287.8L429.7,296.4M429.7,296.4L431.0,292.0M429.7,296.4L434.2,295.9M440.0,273.8L429.7,282.5M429.7,282.5L431.0,278.1M429.7,282.5L434.2,282.0M440.0,259.9L429.7,268.5M429.7,268.5L431.0,264.1M429.7,268.5L434.2,268.0M440.0,231.7L429.7,240.4M429.7,240.4L431.0,236.0M429.7,240.4L434.2,239.8M440.0,217.5L429.7,226.2M429.7,226.2L431.0,221.8M429.7,226.2L434.2,225.6M440.0,203.2L429.7,211.9M429.7,211.9L431.0,207.5M429.7,211.9L434.2,211.3M440.0,188.9L429.7,197.5M429.7,197.5L431.0,193.1M429.7,197.5L434.2,197.0M440.0,174.4L429.7,183.1M429.7,183.1L431.0,178.7M429.7,183.1L434.2,182.5M440.0,159.9L429.7,168.5M429.7,168.5L431.0,164.1M429.7,168.5L434.2,168.0M440.0,145.2L432.3,156.3M432.3,156.3L432.4,151.7M432.3,156.3L436.5,154.5M440.0,130.4L432.3,141.5M432.3,141.5L432.4,136.9M432.3,141.5L436.5,139.8M440.0,115.6L432.3,126.6M432.3,126.6L432.4,122.0M432.3,126.6L436.5,124.9M440.0,100.6L427.5,105.6M427.5,105.6L430.1,101.8M427.5,105.6L432.0,106.5M453.6,438.2L441.1,443.3M441.1,443.3L443.7,439.5M441.1,443.3L445.6,444.2M453.6,424.7L441.1,429.7M441.1,429.7L443.7,426.0M441.1,429.7L445.6,430.6M453.6,411.1L441.1,416.2M441.1,416.2L443.7,412.4M441.1,416.2L445.6,417.0M453.6,397.5L441.1,402.6M441.1,402.6L443.7,398.8M441.1,402.6L445.6,403.5M453.6,383.9L441.1,389.0M441.1,389.0L443.7,385.2M441.1,389.0L445.6,389.9M453.6,370.3L441.1,375.4M441.1,375.4L443.7,371.6M441.1,375.4L445.6,376.2M453.6,356.6L446.4,368.1M446.4,368.1L446.3,363.5M446.4,368.1L450.6,366.1M453.6,342.9L446.4,354.4M446.4,354.4L446.3,349.8M446.4,354.4L450.6,352.5M453.6,329.2L446.4,340.7M446.4,340.7L446.3,336.1M446.4,340.7L450.6,338.7M453.6,315.5L446.4,326.9M446.4,326.9L446.3,322.3M446.4,326.9L450.6,325.0M453.6,301.6L446.4,313.1M446.4,313.1L446.3,308.5M446.4,313.1L450.6,311.1M453.6,203.2L446.0,214.4M446.0,214.4L446.1,209.8M446.0,214.4L450.3,212.6M453.6,188.9L446.0,200.0M446.0,200.0L446.1,195.4M446.0,200.0L450.3,198.3M453.6,174.4L446.0,185.6M446.0,185.6L446.1,181.0M446.0,185.6L450.3,183.8M453.6,159.9L445.8,170.9M445.8,170.9L446.0,166.3M445.8,170.9L450.1,169.2M453.6,115.6L443.2,124.2M443.2,124.2L444.6,119.8M443.2,124.2L447.8,123.7M453.6,100.6L441.1,105.6M441.1,105.6L443.7,101.8M441.1,105.6L445.6,106.5M453.6,85.4L440.2,87.3M440.2,87.3L443.7,84.3M440.2,87.3L444.4,89.3M467.1,438.2L454.6,443.3M454.6,443.3L457.3,439.5M454.6,443.3L459.1,444.2M467.1,424.7L454.6,429.7M454.6,429.7L457.3,426.0M454.6,429.7L459.1,430.6M467.1,411.1L454.6,416.2M454.6,416.2L457.3,412.4M454.6,416.2L459.1,417.0M467.1,397.5L454.6,402.6M454.6,402.6L457.3,398.8M454.6,402.6L459.1,403.5M467.1,383.9L454.6,389.0M454.6,389.0L457.3,385.2M454.6,389.0L459.1,389.9M467.1,370.3L454.6,375.4M454.6,375.4L457.3,371.6M454.6,375.4L459.1,376.2M467.1,356.6L460.0,368.1M460.0,368.1L459.9,363.5M460.0,368.1L464.2,366.1M467.1,342.9L460.0,354.4M460.0,354.4L459.9,349.8M460.0,354.4L464.2,352.5M467.1,329.2L459.6,340.4M459.6,340.4L459.7,335.8M459.6,340.4L463.8,338.6M467.1,301.6L459.6,312.8M459.6,312.8L459.7,308.2M459.6,312.8L463.8,311.0M467.1,287.8L459.6,299.0M459.6,299.0L459.7,294.4M459.6,299.0L463.8,297.2M467.1,259.9L459.6,271.1M459.6,271.1L459.7,266.5M459.6,271.1L463.8,269.3M467.1,245.8L459.6,257.0M459.6,257.0L459.7,252.4M459.6,257.0L463.8,255.2M467.1,203.2L459.6,214.4M459.6,214.4L459.7,209.8M459.6,214.4L463.8,212.6M467.1,188.9L459.6,200.0M459.6,200.0L459.7,195.4M459.6,200.0L463.8,198.3M467.1,174.4L459.0,185.2M459.0,185.2L459.3,180.6M459.0,185.2L463.4,183.6M467.1,159.9L458.5,170.2M458.5,170.2L459.0,165.6M458.5,170.2L462.9,168.9M467.1,145.2L456.8,153.9M456.8,153.9L458.1,149.5M456.8,153.9L461.4,153.3M467.1,130.4L455.4,137.2M455.4,137.2L457.5,133.1M455.4,137.2L460.0,137.4M467.1,100.6L454.6,105.6M454.6,105.6L457.3,101.8M454.6,105.6L459.1,106.5M467.1,85.4L453.8,87.3M453.8,87.3L457.2,84.3M453.8,87.3L457.9,89.3M467.1,70.2L453.7,71.6M453.7,71.6L457.3,68.7M453.7,71.6L457.8,73.7M467.1,54.8L453.7,56.2M453.7,56.2L457.3,53.3M453.7,56.2L457.8,58.3M480.7,438.2L468.2,443.3M468.2,443.3L470.8,439.5M468.2,443.3L472.7,444.2M480.7,424.7L468.2,429.7M468.2,429.7L470.8,426.0M468.2,429.7L472.7,430.6M480.7,411.1L468.2,416.2M468.2,416.2L470.8,412.4M468.2,416.2L472.7,417.0M480.7,397.5L468.2,402.6M468.2,402.6L470.8,398.8M468.2,402.6L472.7,403.5M480.7,383.9L468.2,389.0M468.2,389.0L470.8,385.2M468.2,389.0L472.7,389.9M480.7,370.3L468.2,375.4M468.2,375.4L470.8,371.6M468.2,375.4L472.7,376.2M480.7,342.9L473.6,354.4M473.6,354.4L473.5,349.8M473.6,354.4L477.7,352.5M480.7,315.5L473.2,326.6M473.2,326.6L473.2,322.0M473.2,326.6L477.4,324.8M480.7,287.8L473.2,299.0M473.2,299.0L473.2,294.4M473.2,299.0L477.4,297.2M480.7,259.9L473.2,271.1M473.2,271.1L473.2,266.5M473.2,271.1L477.4,269.3M480.7,245.8L473.2,257.0M473.2,257.0L473.2,252.4M473.2,257.0L477.4,255.2M480.7,231.7L473.0,242.8M473.0,242.8L473.1,238.2M473.0,242.8L477.2,241.0M480.7,217.5L471.4,227.3M471.4,227.3L472.3,222.8M471.4,227.3L475.9,226.2M480.7,203.2L471.7,213.2M471.7,213.2L472.4,208.7M471.7,213.2L476.1,212.1M480.7,188.9L471.1,198.4M471.1,198.4L472.1,193.9M471.1,198.4L475.6,197.4M480.7,174.4L470.7,183.4M470.7,183.4L471.9,179.0M470.7,183.4L475.2,182.7M480.7,159.9L470.2,168.3M470.2,168.3L471.6,164.0M470.2,168.3L474.8,167.9M480.7,145.2L470.1,153.5M470.1,153.5L471.6,149.2M470.1,153.5L474.7,153.1M480.7,130.4L468.8,136.8M468.8,136.8L471.0,132.7M468.8,136.8L473.4,137.2M480.7,115.6L467.2,115.8M467.2,115.8L471.0,113.2M467.2,115.8L471.1,118.2M480.7,100.6L467.2,100.8M467.2,100.8L471.0,98.2M467.2,100.8L471.1,103.2M480.7,85.4L467.2,85.7M467.2,85.7L471.0,83.1M467.2,85.7L471.1,88.1M480.7,70.2L467.2,70.4M467.2,70.4L471.0,67.8M467.2,70.4L471.1,72.8M480.7,54.8L467.2,55.0M467.2,55.0L471.0,52.4M467.2,55.0L471.1,57.4M494.3,438.2L481.8,443.3M481.8,443.3L484.4,439.5M481.8,443.3L486.3,444.2M494.3,424.7L481.8,429.7M481.8,429.7L484.4,426.0M481.8,429.7L486.3,430.6M494.3,411.1L481.8,416.2M481.8,416.2L484.4,412.4M481.8,416.2L486.3,417.0M494.3,397.5L481.8,402.6M481.8,402.6L484.4,398.8M481.8,402.6L486.3,403.5M494.3,383.9L481.8,389.0M481.8,389.0L484.4,385.2M481.8,389.0L486.3,389.9M494.3,370.3L481.8,375.4M481.8,375.4L484.4,371.6M481.8,375.4L486.3,376.2M494.3,342.9L487.1,354.4M487.1,354.4L487.0,349.8M487.1,354.4L491.3,352.5M494.3,287.8L486.5,298.8M486.5,298.8L486.7,294.2M486.5,298.8L490.8,297.1M494.3,259.9L486.5,270.9M486.5,270.9L486.7,266.3M486.5,270.9L490.8,269.2M494.3,245.8L486.5,256.9M486.5,256.9L486.7,252.3M486.5,256.9L490.8,255.1M494.3,231.7L485.1,241.6M485.1,241.6L485.9,237.1M485.1,241.6L489.6,240.5M494.3,217.5L483.9,226.1M483.9,226.1L485.2,221.7M483.9,226.1L488.4,225.6M494.3,203.2L483.5,211.3M483.5,211.3L485.1,207.0M483.5,211.3L488.0,211.0M494.3,188.9L483.0,196.3M483.0,196.3L484.9,192.1M483.0,196.3L487.6,196.3M494.3,174.4L482.7,181.3M482.7,181.3L484.7,177.2M482.7,181.3L487.3,181.5M494.3,159.9L482.3,166.1M482.3,166.1L484.6,162.1M482.3,166.1L486.9,166.6M494.3,145.2L482.6,151.9M482.6,151.9L484.7,147.8M482.6,151.9L487.2,152.2M494.3,130.4L481.6,135.1M481.6,135.1L484.4,131.4M481.6,135.1L486.1,136.1M494.3,115.6L480.8,115.8M480.8,115.8L484.6,113.2M480.8,115.8L484.7,118.2M494.3,100.6L480.8,100.8M480.8,100.8L484.6,98.2M480.8,100.8L484.7,103.2M494.3,85.4L480.8,85.7M480.8,85.7L484.6,83.1M480.8,85.7L484.7,88.1M494.3,70.2L480.8,70.4M480.8,70.4L484.6,67.8M480.8,70.4L484.7,72.8M494.3,54.8L480.8,55.0M480.8,55.0L484.6,52.4M480.8,55.0L484.7,57.4M507.9,451.8L498.3,461.3M498.3,461.3L499.3,456.8M498.3,461.3L502.8,460.4M507.9,438.2L495.3,443.3M495.3,443.3L498.0,439.5M495.3,443.3L499.8,444.2M507.9,424.7L495.3,429.7M495.3,429.7L498.0,426.0M495.3,429.7L499.8,430.6M507.9,411.1L495.3,416.2M495.3,416.2L498.0,412.4M495.3,416.2L499.8,417.0M507.9,397.5L495.3,402.6M495.3,402.6L498.0,398.8M495.3,402.6L499.8,403.5M507.9,383.9L495.3,389.0M495.3,389.0L498.0,385.2M495.3,389.0L499.8,389.9M507.9,329.2L499.4,339.7M499.4,339.7L499.8,335.1M499.4,339.7L503.7,338.3M507.9,287.8L499.4,298.3M499.4,298.3L499.8,293.7M499.4,298.3L503.7,296.8M507.9,273.8L499.4,284.3M499.4,284.3L499.8,279.8M499.4,284.3L503.7,282.9M507.9,259.9L499.4,270.4M499.4,270.4L499.8,265.8M499.4,270.4L503.7,268.9M507.9,245.8L498.6,255.6M498.6,255.6L499.4,251.1M498.6,255.6L503.0,254.5M507.9,231.7L497.4,240.3M497.4,240.3L498.8,235.9M497.4,240.3L502.0,239.8M507.9,217.5L496.5,224.7M496.5,224.7L498.4,220.6M496.5,224.7L501.1,224.8M507.9,203.2L495.7,209.0M495.7,209.0L498.1,205.1M495.7,209.0L500.2,209.6M507.9,188.9L495.4,194.0M495.4,194.0L498.0,190.2M495.4,194.0L499.9,194.9M507.9,174.4L495.1,178.9M495.1,178.9L497.9,175.3M495.1,178.9L499.6,180.0M507.9,159.9L494.9,163.7M494.9,163.7L497.9,160.2M494.9,163.7L499.3,165.0M507.9,145.2L494.8,148.5M494.8,148.5L497.9,145.1M494.8,148.5L499.1,150.0M507.9,130.4L494.5,132.3M494.5,132.3L498.0,129.3M494.5,132.3L498.7,134.3M507.9,115.6L496.2,108.8M496.2,108.8L500.8,108.6M496.2,108.8L498.2,112.9M507.9,100.6L494.6,103.4M494.6,103.4L497.9,100.1M494.6,103.4L498.9,105.0M507.9,85.4L494.4,85.7M494.4,85.7L498.2,83.1M494.4,85.7L498.3,88.1M507.9,70.2L494.4,70.4M494.4,70.4L498.2,67.8M494.4,70.4L498.3,72.8M507.9,54.8L494.4,55.0M494.4,55.0L498.2,52.4M494.4,55.0L498.3,57.4M521.4,451.8L511.9,461.3M511.9,461.3L512.8,456.8M511.9,461.3L516.4,460.4M521.4,438.2L508.9,443.3M508.9,443.3L511.5,439.5M508.9,443.3L513.4,444.2M521.4,424.7L508.9,429.7M508.9,429.7L511.5,426.0M508.9,429.7L513.4,430.6M521.4,411.1L508.9,416.2M508.9,416.2L511.5,412.4M508.9,416.2L513.4,417.0M521.4,397.5L508.9,402.6M508.9,402.6L511.5,398.8M508.9,402.6L513.4,403.5M521.4,383.9L508.9,389.0M508.9,389.0L511.5,385.2M508.9,389.0L513.4,389.9M521.4,329.2L512.2,339.1M512.2,339.1L513.0,334.6M512.2,339.1L516.7,338.0M521.4,315.5L512.2,325.3M512.2,325.3L513.0,320.8M512.2,325.3L516.7,324.2M521.4,301.6L512.2,311.5M512.2,311.5L513.0,307.0M512.2,311.5L516.7,310.4M521.4,287.8L512.2,297.6M512.2,297.6L513.0,293.1M512.2,297.6L516.7,296.5M521.4,273.8L512.2,283.7M512.2,283.7L513.0,279.2M512.2,283.7L516.7,282.6M521.4,259.9L511.7,269.3M511.7,269.3L512.8,264.8M511.7,269.3L516.2,268.4M521.4,245.8L510.8,254.1M510.8,254.1L512.3,249.8M510.8,254.1L515.4,253.7M521.4,231.7L509.9,238.8M509.9,238.8L511.9,234.6M509.9,238.8L514.5,238.9M521.4,217.5L509.2,223.3M509.2,223.3L511.6,219.4M509.2,223.3L513.8,223.9M521.4,203.2L508.7,207.7M508.7,207.7L511.5,204.0M508.7,207.7L513.1,208.8M521.4,188.9L508.5,192.6M508.5,192.6L511.5,189.2M508.5,192.6L512.9,194.0M521.4,174.4L508.3,177.5M508.3,177.5L511.5,174.2M508.3,177.5L512.6,179.1M521.4,159.9L508.1,162.3M508.1,162.3L511.5,159.1M508.1,162.3L512.4,164.0M521.4,145.2L509.0,139.9M509.0,139.9L513.5,139.1M509.0,139.9L511.6,143.7M521.4,130.4L515.7,118.2M515.7,118.2L519.6,120.6M515.7,118.2L515.1,122.8M521.4,115.6L519.5,102.2M519.5,102.2L522.6,105.7M519.5,102.2L517.6,106.4M521.4,100.6L509.4,94.4M509.4,94.4L514.0,93.9M509.4,94.4L511.7,98.4M521.4,85.4L507.9,85.7M507.9,85.7L511.7,83.1M507.9,85.7L511.8,88.1M521.4,70.2L507.9,70.4M507.9,70.4L511.7,67.8M507.9,70.4L511.8,72.8M521.4,54.8L507.9,55.0M507.9,55.0L511.7,52.4M507.9,55.0L511.8,57.4M535.0,451.8L525.8,461.6M525.8,461.6L526.6,457.1M525.8,461.6L530.2,460.5M535.0,438.2L525.8,448.1M525.8,448.1L526.6,443.6M525.8,448.1L530.2,447.0M535.0,424.7L525.8,434.5M525.8,434.5L526.6,430.0M525.8,434.5L530.2,433.4M535.0,411.1L525.8,421.0M525.8,421.0L526.6,416.4M525.8,421.0L530.2,419.9M535.0,397.5L525.8,407.4M525.8,407.4L526.6,402.9M525.8,407.4L530.2,406.3M535.0,383.9L525.8,393.8M525.8,393.8L526.6,389.3M525.8,393.8L530.2,392.7M535.0,370.3L525.8,380.2M525.8,380.2L526.6,375.6M525.8,380.2L530.2,379.1M535.0,356.6L525.8,366.5M525.8,366.5L526.6,362.0M525.8,366.5L530.2,365.4M535.0,342.9L525.8,352.8M525.8,352.8L526.6,348.3M525.8,352.8L530.2,351.7M535.0,329.2L525.8,339.1M525.8,339.1L526.6,334.6M525.8,339.1L530.2,338.0M535.0,315.5L525.8,325.3M525.8,325.3L526.6,320.8M525.8,325.3L530.2,324.2M535.0,301.6L525.8,311.5M525.8,311.5L526.6,307.0M525.8,311.5L530.2,310.4M535.0,287.8L525.8,297.6M525.8,297.6L526.6,293.1M525.8,297.6L530.2,296.5M535.0,273.8L525.3,283.2M525.3,283.2L526.3,278.8M525.3,283.2L529.8,282.4M535.0,259.9L524.5,268.3M524.5,268.3L525.9,263.9M524.5,268.3L529.0,267.8M535.0,245.8L523.7,253.2M523.7,253.2L525.6,249.0M523.7,253.2L528.3,253.2M535.0,231.7L523.1,238.0M523.1,238.0L525.3,234.0M523.1,238.0L527.6,238.4M535.0,217.5L522.5,222.7M522.5,222.7L525.1,218.9M522.5,222.7L527.0,223.5M535.0,203.2L522.1,207.2M522.1,207.2L525.0,203.7M522.1,207.2L526.5,208.4M535.0,188.9L521.9,192.1M521.9,192.1L525.0,188.8M521.9,192.1L526.2,193.6M535.0,174.4L521.7,177.0M521.7,177.0L525.0,173.8M521.7,177.0L526.0,178.7M535.0,159.9L521.6,161.8M521.6,161.8L525.1,158.7M521.6,161.8L525.8,163.7M535.0,145.2L522.0,141.7M522.0,141.7L526.3,140.3M522.0,141.7L525.0,145.1M535.0,130.4L527.8,119.0M527.8,119.0L532.0,120.9M527.8,119.0L527.8,123.6M535.0,115.6L530.8,102.7M530.8,102.7L534.4,105.6M530.8,102.7L529.6,107.2M535.0,100.6L524.2,92.4M524.2,92.4L528.8,92.8M524.2,92.4L525.8,96.8M535.0,85.4L521.5,85.7M521.5,85.7L525.3,83.1M521.5,85.7L525.4,88.1M535.0,70.2L521.5,70.4M521.5,70.4L525.3,67.8M521.5,70.4L525.4,72.8M535.0,54.8L521.5,55.0M521.5,55.0L525.3,52.4M521.5,55.0L525.4,57.4M548.6,424.7L539.4,434.5M539.4,434.5L540.2,430.0M539.4,434.5L543.8,433.4M548.6,411.1L539.4,421.0M539.4,421.0L540.2,416.4M539.4,421.0L543.8,419.9M548.6,397.5L539.4,407.4M539.4,407.4L540.2,402.9M539.4,407.4L543.8,406.3M548.6,383.9L539.4,393.8M539.4,393.8L540.2,389.3M539.4,393.8L543.8,392.7M548.6,370.3L539.4,380.2M539.4,380.2L540.2,375.6M539.4,380.2L543.8,379.1M548.6,356.6L539.4,366.5M539.4,366.5L540.2,362.0M539.4,366.5L543.8,365.4M548.6,342.9L539.4,352.8M539.4,352.8L540.2,348.3M539.4,352.8L543.8,351.7M548.6,329.2L539.4,339.1M539.4,339.1L540.2,334.6M539.4,339.1L543.8,338.0M548.6,315.5L539.4,325.3M539.4,325.3L540.2,320.8M539.4,325.3L543.8,324.2M548.6,301.6L539.4,311.5M539.4,311.5L540.2,307.0M539.4,311.5L543.8,310.4M548.6,287.8L538.6,296.9M538.6,296.9L539.8,292.4M538.6,296.9L543.1,296.1M548.6,273.8L537.9,282.1M537.9,282.1L539.4,277.8M537.9,282.1L542.5,281.7M548.6,259.9L537.3,267.3M537.3,267.3L539.1,263.1M537.3,267.3L541.9,267.2M548.6,245.8L536.7,252.3M536.7,252.3L538.9,248.2M536.7,252.3L541.3,252.6M548.6,231.7L536.2,237.2M536.2,237.2L538.7,233.3M536.2,237.2L540.8,237.9M548.6,217.5L535.8,222.0M535.8,222.0L538.6,218.4M535.8,222.0L540.3,223.1M548.6,203.2L535.5,206.7M535.5,206.7L538.6,203.3M535.5,206.7L539.9,208.1M548.6,188.9L535.4,191.6M535.4,191.6L538.6,188.4M535.4,191.6L539.6,193.3M548.6,174.4L535.2,176.5M535.2,176.5L538.6,173.4M535.2,176.5L539.4,178.4M548.6,159.9L535.1,161.2M535.1,161.2L538.7,158.4M535.1,161.2L539.2,163.3M548.6,145.2L535.3,142.9M535.3,142.9L539.5,141.1M535.3,142.9L538.6,146.0M548.6,130.4L539.0,120.9M539.0,120.9L543.5,121.8M539.0,120.9L540.0,125.4M548.6,115.6L541.6,104.0M541.6,104.0L545.7,106.0M541.6,104.0L541.4,108.6M548.6,100.6L536.9,93.8M536.9,93.8L541.5,93.6M536.9,93.8L539.0,97.9M548.6,85.4L535.1,85.7M535.1,85.7L538.9,83.1M535.1,85.7L539.0,88.1M548.6,70.2L535.1,70.4M535.1,70.4L538.9,67.8M535.1,70.4L539.0,72.8M548.6,54.8L535.1,55.0M535.1,55.0L538.9,52.4M535.1,55.0L539.0,57.4M562.1,451.8L552.9,461.6M552.9,461.6L553.7,457.1M552.9,461.6L557.4,460.5M562.1,438.2L552.9,448.1M552.9,448.1L553.7,443.6M552.9,448.1L557.4,447.0M562.1,424.7L552.9,434.5M552.9,434.5L553.7,430.0M552.9,434.5L557.4,433.4M562.1,411.1L552.9,421.0M552.9,421.0L553.7,416.4M552.9,421.0L557.4,419.9M562.1,397.5L552.9,407.4M552.9,407.4L553.7,402.9M552.9,407.4L557.4,406.3M562.1,383.9L552.9,393.8M552.9,393.8L553.7,389.3M552.9,393.8L557.4,392.7M562.1,370.3L552.9,380.2M552.9,380.2L553.7,375.6M552.9,380.2L557.4,379.1M562.1,356.6L552.9,366.5M552.9,366.5L553.7,362.0M552.9,366.5L557.4,365.4M562.1,342.9L552.9,352.8M552.9,352.8L553.7,348.3M552.9,352.8L557.4,351.7M562.1,329.2L552.9,339.1M552.9,339.1L553.7,334.6M552.9,339.1L557.4,338.0M562.1,315.5L552.3,324.7M552.3,324.7L553.4,320.2M552.3,324.7L556.8,323.9M562.1,301.6L551.7,310.2M551.7,310.2L553.1,305.8M551.7,310.2L556.3,309.7M562.1,287.8L551.1,295.6M551.1,295.6L552.8,291.3M551.1,295.6L555.7,295.4M562.1,273.8L550.6,280.9M550.6,280.9L552.6,276.8M550.6,280.9L555.2,281.0M562.1,259.9L550.2,266.2M550.2,266.2L552.4,262.2M550.2,266.2L554.8,266.6M562.1,245.8L549.8,251.3M549.8,251.3L552.3,247.5M549.8,251.3L554.4,252.0M562.1,231.7L549.5,236.4M549.5,236.4L552.2,232.7M549.5,236.4L554.0,237.4M562.1,217.5L549.2,221.3M549.2,221.3L552.2,217.8M549.2,221.3L553.6,222.6M562.1,203.2L549.0,206.2M549.0,206.2L552.2,202.9M549.0,206.2L553.3,207.8M562.1,188.9L548.8,191.1M548.8,191.1L552.2,188.0M548.8,191.1L553.0,193.0M562.1,174.4L548.7,176.0M548.7,176.0L552.3,173.0M548.7,176.0L552.8,178.0M562.1,159.9L548.7,160.7M548.7,160.7L552.3,158.0M548.7,160.7L552.7,163.0M562.1,145.2L548.8,143.3M548.8,143.3L552.9,141.4M548.8,143.3L552.2,146.3M562.1,130.4L549.7,125.2M549.7,125.2L554.2,124.4M549.7,125.2L552.3,129.0M562.1,115.6L551.8,106.9M551.8,106.9L556.4,107.4M551.8,106.9L553.1,111.3M562.1,100.6L550.2,94.2M550.2,94.2L554.8,93.8M550.2,94.2L552.4,98.2M562.1,85.4L548.6,85.7M548.6,85.7L552.4,83.1M548.6,85.7L552.5,88.1M562.1,70.2L548.6,70.4M548.6,70.4L552.4,67.8M548.6,70.4L552.5,72.8M562.1,54.8L548.6,55.0M548.6,55.0L552.4,52.4M548.6,55.0L552.5,57.4M575.7,451.8L566.5,461.6M566.5,461.6L567.3,457.1M566.5,461.6L571.0,460.5M575.7,438.2L566.5,448.1M566.5,448.1L567.3,443.6M566.5,448.1L571.0,447.0M575.7,424.7L566.5,434.5M566.5,434.5L567.3,430.0M566.5,434.5L571.0,433.4M575.7,411.1L566.5,421.0M566.5,421.0L567.3,416.4M566.5,421.0L571.0,419.9M575.7,397.5L566.5,407.4M566.5,407.4L567.3,402.9M566.5,407.4L571.0,406.3M575.7,383.9L566.5,393.8M566.5,393.8L567.3,389.3M566.5,393.8L571.0,392.7M575.7,370.3L566.4,380.1M566.4,380.1L567.2,375.6M566.4,380.1L570.9,379.0M575.7,356.6L565.9,365.9M565.9,365.9L567.0,361.5M565.9,365.9L570.4,365.1M575.7,342.9L565.4,351.7M565.4,351.7L566.7,347.3M565.4,351.7L570.0,351.1M575.7,329.2L565.0,337.4M565.0,337.4L566.5,333.1M565.0,337.4L569.6,337.1M575.7,315.5L564.6,323.1M564.6,323.1L566.3,318.8M564.6,323.1L569.2,323.0M575.7,301.6L564.2,308.7M564.2,308.7L566.2,304.5M564.2,308.7L568.8,308.8M575.7,287.8L563.8,294.2M563.8,294.2L566.0,290.2M563.8,294.2L568.4,294.6M575.7,273.8L563.5,279.7M563.5,279.7L565.9,275.7M563.5,279.7L568.1,280.3M575.7,259.9L563.2,265.0M563.2,265.0L565.8,261.2M563.2,265.0L567.8,265.9M575.7,245.8L563.0,250.3M563.0,250.3L565.8,246.7M563.0,250.3L567.4,251.4M575.7,231.7L562.8,235.5M562.8,235.5L565.7,232.0M562.8,235.5L567.2,236.8M575.7,217.5L562.6,220.6M562.6,220.6L565.7,217.3M562.6,220.6L566.9,222.2M575.7,203.2L562.4,205.7M562.4,205.7L565.8,202.5M562.4,205.7L566.7,207.4M575.7,188.9L562.3,190.6M562.3,190.6L565.8,187.6M562.3,190.6L566.5,192.6M575.7,174.4L562.2,175.5M562.2,175.5L565.9,172.7M562.2,175.5L566.3,177.7M575.7,159.9L562.2,160.2M562.2,160.2L566.0,157.6M562.2,160.2L566.1,162.6M575.7,145.2L562.3,144.0M562.3,144.0L566.3,141.9M562.3,144.0L565.9,146.9M575.7,130.4L563.5,124.7M563.5,124.7L568.0,124.1M563.5,124.7L565.9,128.6M575.7,115.6L563.5,109.9M563.5,109.9L568.0,109.2M563.5,109.9L565.9,113.8M575.7,100.6L563.7,94.4M563.7,94.4L568.2,93.9M563.7,94.4L566.0,98.4M575.7,85.4L562.2,85.7M562.2,85.7L566.0,83.1M562.2,85.7L566.1,88.1M575.7,70.2L562.2,70.4M562.2,70.4L566.0,67.8M562.2,70.4L566.1,72.8M575.7,54.8L562.2,55.0M562.2,55.0L566.0,52.4M562.2,55.0L566.1,57.4"/>
</g>
<g>
<path d="M153.0,36.0 L466.0,36.0 L465.0,39.0 L462.0,48.0 L460.0,56.0 L456.0,62.0 L453.0,69.0 L449.0,74.0 L447.0,79.0 L441.0,84.0 L437.0,88.0 L436.0,92.0 L435.0,96.0 L433.0,101.0 L431.0,106.0 L425.0,111.0 L419.0,116.0 L414.0,120.0 L410.0,124.0 L402.0,131.0 L395.0,138.0 L390.0,142.0 L387.0,145.0 L377.0,146.0 L371.0,150.0 L365.0,152.0 L359.0,154.0 L353.0,156.0 L349.0,157.0 L345.0,158.0 L338.0,161.0 L331.0,164.0 L322.0,166.0 L313.0,168.0 L310.0,171.0 L308.0,174.0 L309.0,180.0 L310.0,185.0 L304.0,184.0 L302.0,180.0 L301.0,176.0 L301.0,172.0 L302.0,168.0 L297.0,164.0 L291.0,163.0 L285.0,162.0 L279.0,165.0 L273.0,168.0 L269.0,171.0 L265.0,174.0 L259.0,174.0 L255.0,181.0 L251.0,188.0 L248.0,195.0 L245.0,203.0 L247.0,207.0 L250.0,210.0 L254.0,214.0 L257.0,218.0 L259.0,226.0 L265.0,229.0 L271.0,236.0 L277.0,242.0 L283.0,248.0 L287.0,253.0 L290.0,258.0 L292.0,264.0 L295.0,272.0 L296.0,280.0 L297.0,288.0 L296.0,296.0 L293.0,304.0 L289.0,309.0 L285.0,312.0 L280.0,316.0 L275.0,320.0 L270.0,322.0 L265.0,323.0 L261.0,326.0 L257.0,330.0 L253.0,334.0 L248.0,337.0 L243.0,340.0 L239.0,344.0 L235.0,346.0 L236.0,338.0 L237.0,330.0 L235.0,326.0 L233.0,324.0 L226.0,322.0 L219.0,320.0 L215.0,315.0 L211.0,310.0 L206.0,305.0 L201.0,300.0 L197.0,295.0 L193.0,292.0 L187.0,291.0 L181.0,290.0 L182.0,285.0 L182.0,280.0 L175.0,280.0 L169.0,281.0 L169.0,290.0 L170.0,298.0 L165.0,306.0 L161.0,318.0 L158.0,326.0 L159.0,339.0 L167.0,340.0 L169.0,348.0 L172.0,355.0 L175.0,362.0 L179.0,367.0 L188.0,370.0 L198.0,377.0 L205.0,383.0 L210.0,390.0 L213.0,396.0 L215.0,402.0 L216.0,412.0 L215.0,422.0 L218.0,429.0 L221.0,435.0 L225.0,441.0 L227.0,446.0 L220.0,447.0 L213.0,445.0 L207.0,442.0 L199.0,437.0 L192.0,432.0 L185.0,422.0 L180.0,413.0 L177.0,407.0 L175.0,400.0 L174.0,395.0 L173.0,387.0 L172.0,380.0 L169.0,374.0 L162.0,367.0 L155.0,356.0 L153.0,356.0Z" fill="#c0c0c0" stroke="#000" stroke-width="1.2" stroke-linejoin="round" />
<path d="M293.0,467.0 L290.5,456.0 L293.0,445.5 L298.0,439.0 L302.0,442.0 L311.0,443.0 L318.0,444.0 L321.0,438.0 L323.0,429.0 L333.0,425.0 L346.0,421.6 L351.0,417.0 L356.0,413.0 L361.0,408.0 L366.0,402.7 L371.0,399.0 L376.0,396.0 L381.0,390.0 L386.0,385.0 L392.0,379.0 L397.0,374.0 L403.0,373.0 L405.0,378.0 L407.0,382.0 L412.0,386.0 L417.0,388.0 L424.0,391.0 L430.0,393.0 L424.0,396.0 L417.0,398.0 L415.0,402.0 L423.0,405.0 L417.0,408.0 L411.0,410.0 L405.0,416.0 L409.0,422.0 L411.0,432.0 L414.0,438.0 L419.0,445.0 L425.0,452.0 L413.0,452.0 L409.0,456.0 L407.0,460.0 L406.0,467.0Z" fill="#c0c0c0" stroke="#000" stroke-width="1.2" stroke-linejoin="round" />
<path d="M153.0,416.0 L160.0,420.0 L167.0,427.0 L177.0,435.0 L187.0,440.0 L195.0,446.0 L200.0,452.0 L206.0,457.0 L212.0,460.0 L217.0,464.0 L219.0,467.0 L153.0,467.0Z" fill="#c0c0c0" stroke="#000" stroke-width="1.2" stroke-linejoin="round" />
<path d="M439.0,468.0 L440.0,460.0 L441.0,456.0 L446.0,454.0 L451.0,452.0 L455.0,448.0 L458.0,449.0 L461.0,451.0 L469.0,452.0 L477.0,452.0 L489.0,454.0 L497.0,453.0 L503.0,448.0 L508.0,443.0 L510.0,445.0 L508.0,451.0 L503.0,456.0 L497.0,460.0 L489.0,462.0 L480.0,462.0 L470.0,461.0 L460.0,460.5 L452.0,461.0 L448.0,463.0 L447.0,468.0Z" fill="#c0c0c0" stroke="#000" stroke-width="1.2" stroke-linejoin="round" />
</g>
<g>
<path d="M287.0,197.0 L291.0,193.0 L297.0,191.0 L305.0,189.0 L313.0,188.0 L318.0,191.0 L316.0,196.0 L313.0,200.0 L311.0,205.0 L308.0,208.0 L303.0,211.0 L297.0,213.0 L292.0,212.0 L289.0,209.0 L286.0,202.0Z" fill="#c0c0c0" stroke="#000" stroke-width="1.2" stroke-linejoin="round" />
<path d="M462.0,111.0 L466.0,116.0 L465.0,121.0 L464.0,126.0 L462.0,133.0 L460.0,140.0 L457.0,148.0 L454.0,155.0 L450.0,160.0 L447.0,154.0 L443.0,146.0 L443.0,140.0 L445.0,133.0 L447.0,128.0 L450.0,122.0 L454.0,116.0 L458.0,112.0Z" fill="#c0c0c0" stroke="#000" stroke-width="1.2" stroke-linejoin="round" />
<path d="M449.0,210.0 L457.0,209.0 L463.0,211.0 L468.0,213.0 L470.0,209.0 L472.0,214.0 L471.0,220.0 L474.0,230.0 L472.0,238.0 L465.0,246.0 L461.0,252.0 L462.0,262.0 L464.0,267.0 L468.0,269.0 L473.0,270.0 L478.0,269.0 L483.0,274.0 L489.0,275.0 L492.0,280.0 L493.5,285.0 L491.5,289.5 L488.0,288.0 L485.0,284.0 L480.0,280.5 L475.0,279.0 L470.0,278.5 L465.0,277.5 L461.0,277.0 L457.0,278.5 L453.0,276.0 L449.7,272.0 L448.5,268.0 L451.5,266.0 L451.0,262.5 L448.5,263.5 L448.0,265.6 L445.0,264.0 L442.0,256.0 L439.0,246.0 L438.0,242.0 L444.0,241.0 L445.0,230.0 L447.0,218.0Z" fill="#c0c0c0" stroke="#000" stroke-width="1.2" stroke-linejoin="round" />
<path d="M496.0,272.0 L499.0,271.5 L500.5,275.0 L499.0,279.0 L496.5,277.0Z" fill="#c0c0c0" stroke="#000" stroke-width="1.2" stroke-linejoin="round" />
<path d="M445.5,281.0 L455.0,279.5 L461.0,284.0 L461.5,292.0 L457.0,299.5 L452.5,294.0 L448.0,287.5Z" fill="#c0c0c0" stroke="#000" stroke-width="1.2" stroke-linejoin="round" />
<path d="M466.5,302.0 L474.6,304.5 L483.0,309.5 L482.5,313.5 L476.0,317.0 L471.0,321.0 L467.0,323.5 L465.5,317.0 L466.5,310.7Z" fill="#c0c0c0" stroke="#000" stroke-width="1.2" stroke-linejoin="round" />
<path d="M480.5,315.5 L487.0,315.5 L485.5,326.7 L484.0,337.0 L481.0,342.5 L475.0,337.0 L473.0,331.6 L478.6,328.0 L479.5,320.0Z" fill="#c0c0c0" stroke="#000" stroke-width="1.2" stroke-linejoin="round" />
<path d="M492.5,315.0 L496.0,317.0 L493.0,325.0 L489.0,333.0 L485.0,338.5 L482.5,336.0 L486.0,327.0 L489.5,320.0Z" fill="#c0c0c0" stroke="#000" stroke-width="1.2" stroke-linejoin="round" />
<path d="M491.5,329.5 L496.0,327.0 L501.5,329.0 L501.0,333.0 L496.0,334.5 L491.5,333.0Z" fill="#c0c0c0" stroke="#000" stroke-width="1.2" stroke-linejoin="round" />
<path d="M500.0,311.0 L504.0,310.0 L508.5,312.5 L510.5,318.0 L510.5,324.0 L508.5,328.0 L504.5,326.5 L503.0,320.0 L501.0,316.0Z" fill="#c0c0c0" stroke="#000" stroke-width="1.2" stroke-linejoin="round" />
<path d="M499.0,295.0 L506.7,293.5 L513.5,295.5 L515.0,302.6 L517.0,310.7 L512.5,313.0 L508.0,305.0 L503.5,301.5Z" fill="#c0c0c0" stroke="#000" stroke-width="1.2" stroke-linejoin="round" />
<path d="M483.5,294.0 L488.0,295.0 L493.0,298.5 L495.0,302.5 L491.0,302.0 L487.0,299.0Z" fill="#c0c0c0" stroke="#000" stroke-width="1.2" stroke-linejoin="round" />
<path d="M437.0,297.0 L441.0,296.0 L442.0,300.0 L439.0,301.5 L436.5,300.0Z" fill="#c0c0c0" stroke="#000" stroke-width="1.2" stroke-linejoin="round" />
<path d="M516.0,333.0 L523.0,344.0 L528.0,358.0 L529.0,368.0 L524.0,372.0 L524.0,377.0 L521.0,370.0 L518.0,367.0 L515.0,370.0 L516.0,380.0 L514.0,388.0 L510.0,384.0 L504.0,383.0 L496.0,380.0 L494.0,372.0 L498.0,366.0 L492.0,360.0 L490.0,357.0 L488.0,360.0 L485.0,362.0 L478.0,360.0 L473.0,362.0 L469.0,370.0 L466.0,369.0 L469.0,359.0 L476.0,354.0 L482.0,350.0 L488.0,348.0 L492.0,350.0 L492.0,354.0 L498.0,352.0 L504.0,348.0 L510.0,345.0 L514.0,342.0 L514.0,334.0Z" fill="#c0c0c0" stroke="#000" stroke-width="1.2" stroke-linejoin="round" />
<path d="M399.0,358.0 L397.0,354.0 L403.0,346.0 L411.0,338.0 L420.0,330.0 L428.0,322.0 L434.0,315.0 L437.0,318.0 L431.0,326.0 L423.0,334.0 L414.0,342.0 L407.0,350.0 L402.0,356.0Z" fill="#c0c0c0" stroke="#000" stroke-width="1.2" stroke-linejoin="round" />
<path d="M545.0,436.0 L548.0,438.0 L549.0,446.0 L553.0,444.0 L557.0,441.0 L559.0,446.0 L557.0,452.0 L552.0,454.0 L549.0,457.0 L548.0,465.0 L545.0,465.0 L544.0,456.0 L540.0,454.0 L539.0,448.0 L541.0,442.0Z" fill="#c0c0c0" stroke="#000" stroke-width="1.2" stroke-linejoin="round" />
<path d="M552.0,430.0 L556.0,428.0 L559.0,431.0 L558.0,436.0 L554.0,438.0 L551.0,435.0Z" fill="#c0c0c0" stroke="#000" stroke-width="1.2" stroke-linejoin="round" />
<path fill="#000" d="M462.1,45.0h1v3h-1zM464.8,42.1h1v1h-1zM464.3,39.5h3v2h-3zM464.9,41.6h3v1h-3zM461.7,50.5h1v3h-1zM460.0,52.3h1v3h-1zM464.6,43.1h3v3h-3zM461.3,50.0h1v3h-1zM463.6,40.7h2v1.5h-2zM464.2,46.4h1v1h-1zM460.6,51.2h3v2h-3zM461.5,53.1h1v1h-1zM461.2,47.1h2v2h-2zM465.4,40.6h3v1.5h-3zM462.8,44.8h2v1h-2zM455.7,66.8h1v1h-1zM454.2,65.8h2v1.5h-2zM456.4,64.8h2v1.5h-2zM457.4,56.6h1.5v1h-1.5zM454.5,67.1h2v1h-2zM458.5,57.4h1v2h-1zM453.2,66.9h1.5v2h-1.5zM452.0,67.3h1v1h-1zM461.1,55.0h1.5v1h-1.5zM459.1,58.3h1.5v1h-1.5zM455.2,65.4h1v2h-1zM454.7,69.0h3v2h-3zM456.8,61.1h2v1h-2zM453.6,70.7h1v1.5h-1zM448.0,75.2h3v1h-3zM447.7,76.9h1v3h-1zM451.2,74.4h3v1.5h-3zM448.8,73.7h2v2h-2zM448.6,72.4h1.5v1.5h-1.5zM450.8,73.8h1v3h-1zM451.5,74.1h3v1.5h-3zM448.4,79.5h1.5v3h-1.5zM449.6,73.6h3v3h-3zM438.6,85.0h1v1h-1zM439.7,85.4h3v2h-3zM441.7,80.5h1.5v2h-1.5zM445.1,83.0h2v1.5h-2zM437.0,86.6h1v2h-1zM444.0,81.2h3v1h-3zM442.8,84.4h1v1h-1zM438.9,88.1h2v1h-2zM443.1,81.4h2v2h-2zM444.6,83.4h1v1h-1zM447.1,79.1h1v3h-1zM440.5,87.0h1.5v1h-1.5zM434.6,90.6h1v3h-1zM434.2,95.7h1v1h-1zM435.9,88.2h3v1.5h-3zM436.2,88.7h1.5v2h-1.5zM436.8,93.4h3v1h-3zM436.0,90.5h2v1h-2zM436.8,91.6h1v2h-1zM431.2,100.6h3v3h-3zM433.8,100.1h3v1h-3zM433.2,99.5h3v2h-3zM433.7,103.1h2v1.5h-2zM432.6,102.2h1.5v2h-1.5zM434.1,101.1h1v3h-1zM433.1,103.9h3v1h-3zM430.3,103.0h2v1.5h-2zM433.8,95.2h1.5v1h-1.5zM419.0,115.7h1.5v1h-1.5zM426.7,108.4h1v2h-1zM419.2,115.5h1v1h-1zM424.3,112.7h2v1h-2zM425.3,109.1h1.5v3h-1.5zM426.2,110.2h3v3h-3zM429.1,107.6h1v1h-1zM429.2,108.3h1v1.5h-1zM423.1,114.8h1.5v2h-1.5zM430.7,107.7h1.5v1h-1.5zM428.7,107.7h1v1.5h-1zM420.2,116.5h1v3h-1zM419.2,115.9h2v1h-2zM427.1,110.9h1.5v3h-1.5zM417.9,116.1h1v1h-1zM415.5,119.7h1.5v3h-1.5zM411.4,122.1h1v1.5h-1zM414.1,117.9h1v1h-1zM412.6,120.7h2v1h-2zM409.2,124.6h2v2h-2zM415.5,122.1h1.5v1h-1.5zM409.6,125.1h1v2h-1zM411.8,125.1h1v1h-1zM414.7,120.8h1v1h-1zM399.6,133.3h1.5v3h-1.5zM405.6,127.2h1v1.5h-1zM402.5,131.9h3v1.5h-3zM408.0,126.7h1.5v1h-1.5zM409.6,123.9h3v1h-3zM407.3,126.0h1v1h-1zM402.4,127.9h1.5v1h-1.5zM410.4,126.5h1v3h-1zM403.5,131.2h1v1.5h-1zM399.7,132.5h3v2h-3zM400.1,133.0h3v3h-3zM402.6,130.2h3v1h-3zM407.1,125.7h1v2h-1zM397.7,136.2h3v1h-3zM400.9,131.9h3v3h-3zM408.7,126.2h2v1.5h-2zM399.1,134.4h1v1h-1zM400.6,134.3h2v1h-2zM391.8,142.3h3v1h-3zM393.1,137.7h1.5v3h-1.5zM388.7,140.4h1.5v1h-1.5zM390.1,142.1h3v1.5h-3zM391.2,139.9h3v1h-3zM391.0,140.1h1.5v2h-1.5zM394.4,140.3h1.5v2h-1.5zM394.9,138.4h3v1h-3zM394.0,140.6h1v3h-1zM378.8,147.2h1.5v1h-1.5zM383.4,145.1h1v1h-1zM378.2,145.6h1v2h-1zM382.9,146.6h1v1.5h-1zM380.7,144.4h1v1h-1zM377.2,145.4h2v2h-2zM377.3,145.5h2v1.5h-2zM377.7,144.2h1.5v1h-1.5zM383.7,145.3h1v1.5h-1zM362.7,151.1h2v2.5h-2zM367.7,149.2h2v2h-2zM365.0,151.9h2v1h-2zM360.7,152.4h2v1.5h-2zM371.3,148.9h1.5v2h-1.5zM364.7,151.4h2v1h-2zM373.1,146.6h2v2.5h-2zM374.1,149.1h2v2h-2zM373.7,146.1h1.5v2.5h-1.5zM374.7,146.1h2.5v1h-2.5zM361.7,152.9h2v2.5h-2zM355.5,155.5h2v1.5h-2zM350.6,156.8h2.5v1h-2.5zM358.7,154.1h2v2h-2zM346.6,158.8h1v1h-1zM359.1,155.2h2v2.5h-2zM351.0,157.1h2.5v2h-2.5zM344.7,156.9h1v1h-1zM352.2,157.2h2v1h-2zM336.1,162.0h1v2.5h-1zM332.5,163.0h1v1.5h-1zM337.4,161.9h1v1h-1zM341.9,159.0h1.5v1h-1.5zM332.6,162.8h2v1.5h-2zM332.0,164.8h2v2.5h-2zM341.1,160.6h1.5v1h-1.5zM344.7,158.6h2v1h-2zM341.8,160.6h1v2h-1zM330.0,163.9h2v1h-2zM330.3,164.9h1v1h-1zM321.3,166.7h1v1h-1zM322.0,166.9h1v2.5h-1zM321.3,165.3h2v1h-2zM313.0,167.5h1v1h-1zM312.5,166.7h1v1h-1zM325.0,166.6h1v1h-1zM313.8,166.9h2.5v2h-2.5zM330.9,163.8h1.5v1.5h-1.5zM322.0,164.7h1v1.5h-1zM298.3,166.0h1v2h-1zM298.8,167.0h2v1h-2zM301.4,167.4h2v1h-2zM299.0,166.3h2v1h-2zM293.7,162.8h1v2h-1zM302.3,167.1h1v2.5h-1zM297.7,167.4h2.5v1h-2.5zM288.4,163.1h1.5v1.5h-1.5zM291.6,164.0h1v1h-1zM280.1,165.2h2v2h-2zM282.5,165.3h1v2h-1zM289.5,163.9h1v2.5h-1zM289.0,163.4h2.5v1h-2.5zM284.6,163.2h2v1h-2zM272.5,169.0h1v2h-1zM271.3,169.7h1v1h-1zM278.0,166.1h2v1h-2zM276.5,166.7h1v2.5h-1zM270.9,169.2h1.5v1.5h-1.5zM275.6,166.1h1.5v1h-1.5zM263.9,171.7h1.5v2.5h-1.5zM266.1,171.0h1v2.5h-1zM264.1,171.6h2v1h-2zM267.9,172.1h2v1.5h-2zM268.1,170.2h1v2.5h-1zM259.5,175.0h1.5v2.5h-1.5zM266.7,174.4h1v1h-1zM265.2,174.3h1v1.5h-1zM261.1,175.3h1v3h-1zM266.4,175.4h1.5v2h-1.5zM264.5,174.3h1v1h-1zM266.3,173.9h1v2h-1zM264.3,174.7h1v2h-1zM265.1,174.3h1.5v2h-1.5zM267.2,175.1h1.5v2h-1.5zM263.5,175.4h1.5v1h-1.5zM262.3,175.3h2v1h-2zM263.5,174.2h1.5v2h-1.5zM265.2,173.9h1v2h-1zM296.3,280.5h2v1h-2zM295.7,281.2h1v1h-1zM296.9,283.7h1v1.5h-1zM297.0,282.0h2v1.5h-2zM297.8,288.2h2v1h-2zM297.1,293.4h2v1h-2zM295.5,294.1h2v2h-2zM296.6,288.6h1v1h-1zM294.0,303.4h1.5v1h-1.5zM294.7,299.8h1.5v2h-1.5zM294.6,298.2h1.5v2h-1.5zM293.8,299.0h2v2h-2zM295.8,298.4h2v1h-2zM244.7,338.0h1.5v2h-1.5zM250.0,336.2h1v1h-1zM245.8,338.3h2v1h-2zM252.5,334.1h1v1h-1zM238.0,344.7h1v1h-1zM242.9,340.2h1v1h-1zM242.2,340.8h1v1.5h-1zM209.4,309.7h1v1.5h-1zM207.0,304.3h1.5v2.5h-1.5zM205.6,303.9h1v2h-1zM203.7,302.0h2v1h-2zM208.4,308.6h1v1.5h-1zM210.5,309.7h1v1.5h-1zM211.2,309.7h1.5v1.5h-1.5zM213.7,312.9h1.5v1h-1.5zM213.8,315.0h1v1.5h-1zM217.0,318.5h2.5v1.5h-2.5zM217.5,316.7h1.5v2.5h-1.5zM215.8,315.9h1v1h-1zM215.2,313.8h1v1h-1zM226.5,322.3h2.5v1h-2.5zM224.3,320.8h1.5v2.5h-1.5zM229.8,322.1h1v1h-1zM224.3,321.0h1.5v2h-1.5zM231.5,322.2h2.5v1.5h-2.5zM227.5,322.6h2.5v2h-2.5zM223.4,319.9h2.5v1h-2.5zM243.6,319.4h1v1h-1zM247.1,319.6h2v1h-2zM246.2,321.6h2v2.2h-2zM241.8,320.9h1v2h-1zM253.7,322.8h2v1h-2zM255.7,320.4h1v1.5h-1zM250.0,319.8h1.5v1h-1.5zM252.3,320.3h2.2v1.5h-2.2zM260.9,324.8h1v2.2h-1zM257.1,321.0h1v1h-1zM256.8,331.3h1.5v2.2h-1.5zM262.2,327.7h2.2v2h-2.2zM259.3,326.4h1v2h-1zM249.2,336.4h1v2h-1zM250.6,335.1h1v1h-1zM254.3,332.8h1.5v1h-1.5zM235.4,334.9h1v1h-1zM235.4,336.1h1.5v1h-1.5zM236.8,337.3h1v2h-1zM236.3,330.1h1v1h-1zM236.3,343.4h1v1h-1zM236.5,338.1h1.5v1.5h-1.5zM235.0,340.5h1.5v1h-1.5zM227.5,450.4h2v3.2h-2zM229.6,453.4h1v3.2h-1zM216.5,452.2h1v2h-1zM223.5,446.6h1.5v1h-1.5zM225.2,449.4h3.2v1h-3.2zM224.4,449.5h1v1h-1zM221.6,447.1h1.5v3.2h-1.5zM225.5,457.5h2v1.5h-2zM220.5,448.6h1.5v3.2h-1.5zM218.7,457.3h1v3.2h-1zM228.6,454.4h1v2h-1zM221.7,450.8h3.2v1h-3.2zM222.8,453.8h2v1.5h-2zM220.9,451.1h1.5v3.2h-1.5zM231.7,453.6h3.2v1.5h-3.2zM224.5,455.1h1v2h-1zM225.3,452.3h3.2v2h-3.2zM218.7,451.3h2v1.5h-2zM218.0,451.5h1.5v1.5h-1.5zM220.3,455.1h1.5v1.5h-1.5zM231.6,454.7h2v1.5h-2zM219.8,457.5h2v1h-2zM218.6,453.9h1.5v3.2h-1.5zM218.4,447.8h2v2h-2zM223.0,448.4h1v2h-1zM219.3,450.7h1v1h-1zM222.4,455.5h1.5v2h-1.5zM223.4,447.7h3.2v1h-3.2zM227.9,456.9h3.2v3.2h-3.2zM229.5,454.0h1.5v1.5h-1.5zM226.3,451.4h2v2h-2zM226.1,447.2h3.2v1.5h-3.2zM228.5,454.6h1.5v2h-1.5zM229.6,451.8h1v3.2h-1zM224.3,453.9h1.5v2h-1.5zM228.5,450.7h3.2v1h-3.2zM216.6,452.5h1.5v1.5h-1.5zM224.3,447.2h3.2v1.5h-3.2zM227.5,452.1h2v2h-2zM222.6,457.4h1.5v1.5h-1.5zM222.3,455.2h1v2h-1zM226.2,449.0h3.2v3.2h-3.2zM217.0,446.9h3.2v2h-3.2zM225.3,447.3h2v3.2h-2zM231.0,452.3h1.5v3.2h-1.5zM223.4,448.0h1v1.5h-1zM223.5,452.7h1.5v1.5h-1.5zM221.7,453.7h3.2v3.2h-3.2zM231.9,455.1h1.5v3.2h-1.5zM221.7,456.2h2v3.2h-2zM227.0,457.8h1.5v3.2h-1.5zM216.0,454.7h2v2h-2zM219.9,449.6h3.2v3.2h-3.2zM222.9,453.6h2v1.5h-2zM230.9,456.3h1v1h-1zM229.2,456.9h1.5v2h-1.5zM226.1,446.2h1v1.5h-1zM231.2,453.9h2v1h-2zM225.3,456.3h1.5v3.2h-1.5zM221.5,447.8h3.2v1.5h-3.2zM225.8,454.3h1v2h-1zM219.2,454.3h1v3.2h-1zM226.7,447.4h1v2h-1zM222.7,455.9h3.2v3.2h-3.2zM224.9,451.8h1.5v3.2h-1.5zM219.9,448.0h1v1.5h-1zM229.5,451.6h3.2v2h-3.2zM229.4,450.5h3.2v1h-3.2zM218.9,450.3h1v1h-1zM225.8,454.2h2v1h-2zM232.1,457.8h1.5v1h-1.5zM229.1,457.2h1.5v2h-1.5zM227.9,459.6h2v2.5h-2zM234.8,458.5h1.5v2h-1.5zM231.4,457.2h1v2h-1zM229.9,461.3h2.5v2h-2.5zM232.0,455.7h2v1.5h-2zM233.5,460.9h2v1.5h-2zM230.2,456.0h1v1h-1zM231.0,458.5h2.5v1h-2.5zM231.0,454.1h1v1.5h-1zM235.2,457.8h1v2.5h-1zM233.2,459.3h1v1.5h-1zM227.4,459.3h1.5v1h-1.5zM205.4,440.1h1v1h-1zM202.9,439.7h2.5v1.5h-2.5zM205.0,439.9h1v2h-1zM203.8,441.1h2v2.5h-2zM204.2,440.4h2v2.5h-2zM212.3,443.5h2v2.5h-2zM213.0,445.8h2v2h-2zM210.1,444.1h1v1h-1zM208.9,444.2h1v1h-1zM212.8,444.0h2.5v1h-2.5zM220.2,447.7h1.5v1h-1.5zM221.1,447.1h2v2h-2zM222.9,447.9h1v1h-1zM213.7,446.5h2.5v1h-2.5zM218.3,446.7h2v2.5h-2zM215.2,446.3h2v2h-2zM201.6,454.2h1.5v1h-1.5zM201.7,452.7h2v1.5h-2zM203.8,454.1h1v2h-1zM206.2,457.5h1.5v2h-1.5zM201.8,453.1h1.5v2h-1.5zM200.6,450.4h2v2h-2zM213.8,462.3h1v1.5h-1zM208.7,459.0h1v1.5h-1zM215.9,463.7h2v1h-2zM209.9,459.7h2v1.5h-2zM212.0,460.7h2v1h-2zM255.3,422.1h1.5v2h-1.5zM253.9,421.9h2.5v1.5h-2.5zM256.4,421.4h1v2.5h-1zM252.7,418.9h2v1h-2zM250.9,421.4h2v2h-2zM252.8,421.4h1.5v1.5h-1.5zM250.5,419.4h2v2h-2zM253.6,420.3h1.5v1.5h-1.5zM249.4,423.5h2v1h-2zM252.0,420.8h1v1.5h-1zM258.3,416.1h2v1h-2zM257.4,416.8h2v1.5h-2zM258.0,419.1h2v1h-2zM260.8,419.1h1.5v2h-1.5zM287.1,423.4h1.5v2h-1.5zM282.5,422.2h2v2h-2zM284.9,425.4h1v2h-1zM287.5,424.8h1v2h-1zM283.9,422.9h1v2h-1zM272.7,433.4h2v1.5h-2zM276.0,430.9h1v2h-1zM275.8,430.2h1v1h-1zM399.6,376.7h2v1h-2zM397.5,373.5h1v1.5h-1zM402.7,379.1h2v1.5h-2zM400.4,376.6h2v1h-2zM402.2,378.6h1v2h-1zM403.4,378.5h1v1h-1zM417.3,388.6h1v2h-1zM417.7,387.4h1v1h-1zM411.1,385.6h2v1h-2zM412.4,385.0h1v1h-1zM414.3,385.4h1v1.5h-1zM421.8,388.9h2.5v1.5h-2.5zM420.5,389.6h1.5v2h-1.5zM427.7,393.8h1v1h-1zM425.2,389.8h1v1.5h-1zM422.0,389.5h1v1h-1zM421.9,389.1h1.5v1h-1.5zM416.0,398.7h1.5v2.5h-1.5zM426.9,394.6h2.5v1.5h-2.5zM427.4,395.0h1v1.5h-1zM421.6,395.0h1v1h-1zM426.3,392.9h2.5v2h-2.5zM419.3,395.9h1v2.5h-1zM417.6,400.7h2.5v2h-2.5zM423.1,403.9h1.5v1.5h-1.5zM419.1,401.1h1v1h-1zM420.1,399.9h1.5v1h-1.5zM421.6,405.6h1v1.5h-1zM417.0,407.5h2v2.5h-2zM421.8,404.7h1.5v2h-1.5zM417.1,407.3h1v2h-1zM416.4,408.0h1v1h-1zM419.0,406.5h1v1h-1zM409.3,413.1h1v1h-1zM406.1,414.9h2.5v2.5h-2.5zM407.5,412.6h1.5v1h-1.5zM405.5,413.3h2v2.5h-2zM407.4,423.0h2v1h-2zM407.5,424.0h2.5v2h-2.5zM408.6,428.8h2v2h-2zM408.8,424.3h1v1.5h-1zM406.4,421.0h2v2.5h-2zM410.9,429.7h2.5v1h-2.5zM406.0,421.7h1.5v1h-1.5zM410.6,428.7h1v2.5h-1zM318.4,442.3h1v1h-1zM319.5,443.7h2v1h-2zM322.0,439.9h1v2h-1zM322.6,435.2h2v1h-2zM322.1,432.4h2v1h-2zM322.5,429.1h1v1h-1zM323.0,438.3h1.5v1h-1.5zM401.0,351.3h1v2.5h-1zM398.9,356.1h1.5v1.5h-1.5zM398.7,355.2h2v2.5h-2zM400.9,349.3h2.5v1.5h-2.5zM401.0,352.8h2v1.5h-2zM398.6,356.7h2.5v2h-2.5zM402.6,347.6h1v1h-1zM399.2,364.6h2v2h-2zM404.8,363.7h1v1h-1zM397.6,362.5h2v2h-2zM402.6,366.1h2v2h-2zM403.4,362.9h1.5v1.5h-1.5zM400.2,367.3h1.5v1.5h-1.5zM402.2,368.8h1v2h-1zM398.7,367.0h1.5v2h-1.5zM441.2,296.0h1v2.5h-1zM438.4,302.0h1.5v2.5h-1.5zM441.1,297.7h1v2.5h-1zM441.1,300.2h2v2h-2zM437.8,298.3h2.5v2h-2.5zM436.0,300.5h2.5v2.5h-2.5zM438.7,297.1h2v1.5h-2zM438.6,298.3h1.5v1h-1.5zM440.9,298.0h1.5v2h-1.5zM437.2,298.6h1v1h-1zM431.3,312.4h2.5v2h-2.5zM436.5,313.6h2.5v2.5h-2.5zM433.3,311.1h2v2.5h-2zM436.7,313.1h1.5v1h-1.5zM433.5,312.0h1.5v1.5h-1.5zM436.8,311.9h2.5v2h-2.5zM435.1,313.5h1v1.5h-1zM433.2,311.2h1v2h-1zM463.9,267.8h1.5v2.5h-1.5zM467.1,269.0h1.5v2.5h-1.5zM464.4,263.6h1v2.5h-1zM465.2,268.9h1v2h-1zM460.6,262.7h2.5v1h-2.5zM467.2,269.0h1v1h-1zM470.7,272.3h1.5v2.5h-1.5zM474.1,273.2h2.5v1h-2.5zM470.1,271.9h1v1h-1zM470.4,271.4h2v2.5h-2zM474.9,274.0h2.5v1.5h-2.5zM469.2,271.2h1v1.5h-1zM477.9,276.1h1v1.5h-1zM471.1,270.7h1v2h-1zM477.5,274.3h2.5v1h-2.5zM483.1,280.3h1v1.5h-1zM483.2,276.9h2v2.5h-2zM485.7,280.5h1v1h-1zM489.3,282.7h2v1.5h-2zM486.6,278.8h1v1h-1zM483.3,277.4h1.5v2h-1.5zM486.5,281.6h2v1.5h-2zM451.2,272.3h1.5v2h-1.5zM450.2,271.4h1v2h-1zM449.7,269.9h1v1h-1zM453.7,275.1h1v2h-1zM453.4,274.3h1v1.5h-1zM460.7,277.0h2v1h-2zM459.6,276.7h2v1h-2zM466.7,276.3h2v2h-2zM466.0,275.8h2v1h-2zM501.6,297.5h1v2.5h-1zM506.7,303.6h1v2.5h-1zM499.6,297.8h1v1h-1zM502.7,297.4h2.5v1.5h-2.5zM506.4,301.5h1.5v1h-1.5zM507.0,306.5h1.5v1.5h-1.5zM510.2,308.1h1v1.5h-1zM507.5,306.3h1.5v2h-1.5zM507.7,304.1h2v1.5h-2zM508.1,322.2h1.5v2.5h-1.5zM510.4,319.4h1v2.5h-1zM510.6,313.4h2v1h-2zM510.7,320.0h2.5v1h-2.5zM510.9,318.1h2v2.5h-2zM509.5,317.2h1.5v1h-1.5zM513.6,333.3h1v1h-1zM508.6,325.2h1.5v1h-1.5zM511.8,329.7h2.5v1h-2.5zM509.2,328.2h2v2h-2zM514.2,334.0h2v2.5h-2zM482.9,310.2h2v1h-2zM483.5,314.8h2v1.5h-2zM481.9,312.1h1v2h-1zM484.7,310.8h1.5v2h-1.5zM488.1,315.9h2v2h-2zM488.1,317.0h2v1h-2zM494.0,316.4h1v2h-1zM491.0,317.9h2v2h-2zM482.2,288.7h1.5v2h-1.5zM483.4,291.1h1.5v1h-1.5zM481.0,287.1h2v1.5h-2zM470.7,296.0h2v1.5h-2zM471.8,290.1h1v1.5h-1zM475.2,291.7h2v2h-2zM472.7,287.7h1v2h-1zM485.9,294.5h1v2h-1zM485.7,292.6h1v2h-1zM485.3,291.9h2v1h-2zM517.2,325.9h2v2h-2zM518.9,325.8h1v1h-1zM519.6,333.4h2v2h-2zM516.1,331.4h1.5v1h-1.5zM519.7,333.3h2v2.5h-2zM516.1,333.3h2v1.5h-2zM517.2,330.5h2v2h-2zM516.4,325.4h2.5v1h-2.5zM460.4,381.7h1v1.5h-1zM463.7,378.2h1v1h-1zM467.4,376.4h1v2h-1zM463.0,378.4h1v2.5h-1zM462.3,380.8h1.5v1h-1.5zM462.8,379.7h1.5v1h-1.5zM465.2,379.9h1v2h-1zM457.4,383.7h1.5v2.5h-1.5zM456.8,382.3h2v2h-2zM453.9,388.3h2v2.5h-2zM456.3,383.3h1.5v2.5h-1.5zM455.0,385.0h1.5v2h-1.5zM453.3,386.7h2.5v1h-2.5zM445.0,392.2h1v1h-1zM446.9,390.6h2v1.5h-2zM448.5,389.2h1v1h-1zM452.3,388.1h1v1h-1zM445.0,389.7h2.5v1.5h-2.5zM445.9,390.4h2.5v2.5h-2.5zM441.1,396.4h2.5v1h-2.5zM439.8,396.6h1v2.5h-1zM442.0,395.2h1v2.5h-1zM445.6,392.0h1v1h-1zM442.2,392.8h2.5v1h-2.5zM433.0,393.4h2.5v1h-2.5zM432.8,393.6h1v2.5h-1zM428.9,392.5h1.5v1h-1.5zM436.4,396.5h1v1.5h-1zM436.5,396.7h1.5v2h-1.5zM510.6,391.4h1v2h-1zM512.1,392.2h1v1h-1zM513.3,391.7h2v2h-2zM510.6,416.9h2.5v2h-2.5zM509.4,414.0h1.5v1h-1.5zM512.1,416.6h2v1h-2zM509.7,421.4h1.5v2h-1.5zM509.5,423.1h2.5v2h-2.5zM510.0,433.1h1v2.5h-1zM509.7,433.5h2v1h-2zM509.2,431.5h2.5v2.5h-2.5zM528.5,400.3h1.5v2h-1.5zM533.4,402.9h1v1.5h-1zM529.0,400.6h2.5v2h-2.5zM531.5,400.9h2v2h-2zM528.0,402.8h2v1.5h-2zM528.1,401.6h1v1.5h-1zM532.4,398.4h2.5v2h-2.5zM528.4,406.9h2v1.5h-2zM537.5,397.6h1v1.5h-1zM536.8,399.4h1v2h-1zM542.7,443.1h1v1h-1zM544.6,439.8h2.5v1h-2.5zM543.8,439.2h1v1.5h-1zM543.5,443.6h2.5v1.5h-2.5zM542.4,446.4h1v1h-1zM543.0,449.0h2v2h-2zM543.4,452.0h2.5v1h-2.5zM542.2,447.0h2.5v2.5h-2.5zM545.0,452.6h1v2.5h-1zM545.0,456.5h1.5v2h-1.5zM543.3,450.1h1v2h-1zM555.6,452.8h2v1h-2zM559.1,457.3h1.5v1h-1.5zM554.7,455.0h1.5v2h-1.5zM559.9,457.5h1.5v1.5h-1.5zM558.9,460.6h1v1h-1zM553.6,459.2h2v1.5h-2zM553.0,453.7h1v2h-1zM560.4,453.1h2v1h-2zM464.6,179.1h2v1.5h-2zM462.2,179.1h1v1h-1zM464.5,178.3h2.5v2.5h-2.5zM463.0,179.6h1v1h-1zM465.7,180.6h2v1h-2zM463.7,182.1h2v1.5h-2zM462.4,176.6h1.5v1h-1.5zM463.4,178.6h2v1.5h-2zM462.6,201.8h2v1.5h-2zM463.4,199.1h2v1h-2zM463.8,199.5h2v2h-2zM459.6,201.2h2v1.5h-2zM458.5,201.5h1v2h-1zM457.5,202.0h2v1h-2zM465.4,202.0h1v1h-1zM461.4,198.6h1.5v2h-1.5zM465.4,199.9h1.5v1.5h-1.5zM461.7,158.7h1.5v1h-1.5zM460.7,158.4h2v2h-2zM433.9,129.6h2v2h-2zM433.8,129.2h1v1h-1zM435.6,126.1h2v2h-2zM433.2,128.3h2v2h-2zM436.8,128.5h1.5v1h-1.5zM446.5,93.5h2v1.5h-2zM446.5,93.4h2v2h-2zM493.0,126.5h1.5v1.5h-1.5zM494.8,126.2h2v1.5h-2zM498.2,122.9h2v1h-2zM494.9,126.0h1.5v2h-1.5zM496.8,124.5h3v1.5h-3zM495.8,125.9h1.5v2h-1.5zM490.5,125.4h3v1.5h-3zM494.3,122.2h2v1h-2zM498.1,122.3h1v1.5h-1zM499.1,122.3h2v1h-2zM497.5,123.8h3v1h-3zM494.1,124.7h3v2h-3zM505.0,118.1h1.5v1.5h-1.5zM504.6,119.4h1v1.5h-1zM512.0,117.2h2.5v1h-2.5zM513.4,116.6h2v1h-2zM514.3,116.9h2.5v1.5h-2.5zM512.2,116.5h1.5v1.5h-1.5zM512.8,118.1h1v2h-1zM514.0,119.4h1v2h-1zM573.9,46.8h1.5v1h-1.5zM571.1,41.4h2v2h-2zM570.3,40.3h1v2h-1zM573.2,47.6h2v1h-2zM571.3,40.3h2v2h-2zM562.1,73.8h2v2h-2zM561.8,73.2h2v1.5h-2zM561.7,72.5h2v1.5h-2zM563.2,73.5h1.5v2h-1.5zM557.8,79.5h1.5v1.5h-1.5zM557.7,78.2h1v1h-1zM556.6,79.1h2v2h-2zM531.5,92.3h1.5v1.5h-1.5zM532.1,92.4h1.5v1.5h-1.5zM535.9,93.2h1.5v2h-1.5zM534.5,91.6h2v2h-2zM526.9,93.2h1.5v2h-1.5z"/><path fill="#000" d="M565,63l7,-4l2,3l-5,5l-4,1z"/><path fill="#000" d="M543,93l6,-5l4,-4l2,1l-4,5l-5,5l-3,0z"/><path fill="#c0c0c0" d="M546,92l5,-5l1,1l-5,5z"/><ellipse cx="279.5" cy="411.5" rx="2.2" ry="2.8" fill="#c0c0c0" stroke="#000" stroke-width="1"/><ellipse cx="531.5" cy="405" rx="1.6" ry="2.6" fill="#c0c0c0" stroke="#000" stroke-width="1"/><ellipse cx="400" cy="188" rx="0" ry="0"/><g fill="#c0c0c0" stroke="#000" stroke-width="1.1"><path d="M187.5,438l3.5,-1l2,2.5l-1.5,3l-3.5,0z"/><path d="M197.5,446l3,-1l2.5,3l0,4l-3,1l-2.5,-3z"/><path d="M204,451l4,-1l3,2l-1,3l-4,1l-2,-2z"/><path d="M209,457l5,1l2,2l-4,1l-4,-2z"/></g><path d="M305,137l3,-2l4,1l4,2l5,-1l3,0" fill="none" stroke="#000" stroke-width="1"/><path fill="#000" d="M350,143h3v4h-3zM346.5,147h2v1.5h-2zM425,44h3v2h-3zM380,39h4v1.5h-4zM386,41h2v1h-2zM224,426h3.5v3h-3.5zM228.5,431h3v2h-3zM246,423h4v3.5h-4zM252,419h5v5h-5zM252,427h2v2h-2z"/>
</g>
<g shape-rendering="crispEdges">
<path d="M155.0,143.0 L161.0,143.0 L160.0,151.0 L158.0,157.0 L168.0,160.0 L172.0,166.0 L179.0,165.5 L184.0,163.0 L185.5,170.5 L193.0,170.5 L191.0,162.0 L190.0,155.0 L192.0,153.0 L198.5,153.0 L202.0,149.0 L209.6,153.0 L214.0,148.0 L218.0,149.7 L223.5,151.5 L225.0,148.0 L233.0,148.0 L236.5,142.0 L241.0,139.0 L248.5,145.0 L259.0,146.0 L261.0,149.0 L259.0,154.0 L260.6,159.0 L268.0,164.5 L275.5,165.0" fill="none" stroke="#000" stroke-width="1" stroke-linejoin="round"/>
<path d="M184.0,163.0 L177.0,173.0 L171.5,179.0 L170.0,183.0 L162.0,184.0 L156.0,187.0" fill="none" stroke="#000" stroke-width="1" stroke-linejoin="round"/>
<path d="M171.5,182.0 L174.0,187.0 L175.0,195.0 L185.0,195.0 L186.0,202.0 L184.0,210.0 L182.0,223.0 L186.0,223.0 L196.0,215.0 L205.0,219.0 L213.0,211.0 L223.0,213.0 L233.0,226.0 L234.0,238.0 L241.0,246.0 L245.0,252.0 L244.0,260.0 L245.0,266.0" fill="none" stroke="#000" stroke-width="1" stroke-linejoin="round"/>
<path d="M198.5,154.0 L204.0,160.0 L208.6,163.6 L207.7,170.0 L212.0,175.6 L219.0,178.0 L224.0,174.7 L228.0,175.6 L229.0,181.0 L234.6,186.0 L236.5,190.0 L233.0,192.0 L224.0,194.0 L222.0,198.0 L237.0,207.0 L243.0,217.0 L253.0,228.0 L259.0,238.0 L265.0,242.0 L269.0,252.0 L272.0,260.0 L268.0,268.0 L272.0,280.0 L271.0,296.0 L265.0,298.0" fill="none" stroke="#000" stroke-width="1" stroke-linejoin="round"/>
<path d="M203.0,298.0 L200.0,280.0 L207.0,272.0 L213.0,268.0 L233.0,268.0 L239.0,270.0 L243.0,266.0 L245.0,260.0" fill="none" stroke="#000" stroke-width="1" stroke-linejoin="round"/>
<path d="M245.0,262.0 L249.0,272.0 L259.0,266.0 L265.0,270.0 L269.0,266.0" fill="none" stroke="#000" stroke-width="1" stroke-linejoin="round"/>
<path d="M265.0,298.0 L257.0,300.0 L249.0,306.0 L251.0,314.0 L241.0,318.0 L237.0,312.0 L235.0,308.0 L239.0,320.0 L233.0,324.0" fill="none" stroke="#000" stroke-width="1" stroke-linejoin="round"/>
<path d="M171.0,376.0 L183.0,380.0 L185.0,387.0 L193.0,386.0 L196.0,382.0" fill="none" stroke="#000" stroke-width="1" stroke-linejoin="round"/>
<path d="M295.0,440.0 L299.0,441.0 L309.0,452.0 L317.0,452.0 L333.0,450.0 L335.0,445.0 L349.0,445.0 L353.0,448.0 L367.0,445.0 L369.0,438.0 L373.0,432.0 L377.0,430.0 L379.0,424.0 L380.0,408.0 L385.0,406.0 L403.0,406.0 L407.0,410.0 L411.0,410.0" fill="none" stroke="#000" stroke-width="1" stroke-linejoin="round"/>
<path d="M365.0,400.0 L364.0,404.0 L368.0,405.0 L369.0,401.0" fill="none" stroke="#000" stroke-width="1" stroke-linejoin="round"/>
</g>
</g>
<rect x="154" y="37" width="422" height="429" fill="none" stroke="#000" stroke-width="2"/>
<g stroke="#000" stroke-width="1"><line x1="168.5" y1="38" x2="168.5" y2="42.5"/><line x1="168.5" y1="460.5" x2="168.5" y2="465"/><line x1="195.5" y1="38" x2="195.5" y2="42.5"/><line x1="195.5" y1="460.5" x2="195.5" y2="465"/><line x1="222.5" y1="38" x2="222.5" y2="42.5"/><line x1="222.5" y1="460.5" x2="222.5" y2="465"/><line x1="250.5" y1="38" x2="250.5" y2="42.5"/><line x1="250.5" y1="460.5" x2="250.5" y2="465"/><line x1="277.5" y1="38" x2="277.5" y2="42.5"/><line x1="277.5" y1="460.5" x2="277.5" y2="465"/><line x1="304.5" y1="38" x2="304.5" y2="42.5"/><line x1="304.5" y1="460.5" x2="304.5" y2="465"/><line x1="331.5" y1="38" x2="331.5" y2="42.5"/><line x1="331.5" y1="460.5" x2="331.5" y2="465"/><line x1="358.5" y1="38" x2="358.5" y2="42.5"/><line x1="358.5" y1="460.5" x2="358.5" y2="465"/><line x1="385.5" y1="38" x2="385.5" y2="42.5"/><line x1="385.5" y1="460.5" x2="385.5" y2="465"/><line x1="412.5" y1="38" x2="412.5" y2="42.5"/><line x1="412.5" y1="460.5" x2="412.5" y2="465"/><line x1="440.5" y1="38" x2="440.5" y2="42.5"/><line x1="440.5" y1="460.5" x2="440.5" y2="465"/><line x1="467.5" y1="38" x2="467.5" y2="42.5"/><line x1="467.5" y1="460.5" x2="467.5" y2="465"/><line x1="494.5" y1="38" x2="494.5" y2="42.5"/><line x1="494.5" y1="460.5" x2="494.5" y2="465"/><line x1="521.5" y1="38" x2="521.5" y2="42.5"/><line x1="521.5" y1="460.5" x2="521.5" y2="465"/><line x1="548.5" y1="38" x2="548.5" y2="42.5"/><line x1="548.5" y1="460.5" x2="548.5" y2="465"/><line x1="575.5" y1="38" x2="575.5" y2="42.5"/><line x1="575.5" y1="460.5" x2="575.5" y2="465"/><line x1="155" y1="437.5" x2="160" y2="437.5"/><line x1="570" y1="437.5" x2="575" y2="437.5"/><line x1="155" y1="410.5" x2="160" y2="410.5"/><line x1="570" y1="410.5" x2="575" y2="410.5"/><line x1="155" y1="382.5" x2="160" y2="382.5"/><line x1="570" y1="382.5" x2="575" y2="382.5"/><line x1="155" y1="355.5" x2="160" y2="355.5"/><line x1="570" y1="355.5" x2="575" y2="355.5"/><line x1="155" y1="328.5" x2="160" y2="328.5"/><line x1="570" y1="328.5" x2="575" y2="328.5"/><line x1="155" y1="300.5" x2="160" y2="300.5"/><line x1="570" y1="300.5" x2="575" y2="300.5"/><line x1="155" y1="272.5" x2="160" y2="272.5"/><line x1="570" y1="272.5" x2="575" y2="272.5"/><line x1="155" y1="244.5" x2="160" y2="244.5"/><line x1="570" y1="244.5" x2="575" y2="244.5"/><line x1="155" y1="216.5" x2="160" y2="216.5"/><line x1="570" y1="216.5" x2="575" y2="216.5"/><line x1="155" y1="187.5" x2="160" y2="187.5"/><line x1="570" y1="187.5" x2="575" y2="187.5"/><line x1="155" y1="158.5" x2="160" y2="158.5"/><line x1="570" y1="158.5" x2="575" y2="158.5"/><line x1="155" y1="129.5" x2="160" y2="129.5"/><line x1="570" y1="129.5" x2="575" y2="129.5"/><line x1="155" y1="99.5" x2="160" y2="99.5"/><line x1="570" y1="99.5" x2="575" y2="99.5"/><line x1="155" y1="69.5" x2="160" y2="69.5"/><line x1="570" y1="69.5" x2="575" y2="69.5"/></g>
<text x="365.4" y="19.7" font-size="12.95" text-anchor="middle" fill="#000058"  style="">Significant Wave Height with Wave Direction</text>
<text x="366.2" y="31.7" font-size="12.15" text-anchor="middle" fill="#000058"  style="font-style:italic">Valid For Nov-22-2019 18:00 GMT</text>
<text x="171.4" y="482.4" font-size="10.7" text-anchor="middle" fill="#000"  style="font-style:italic">100 E</text>
<text x="239.25" y="482.4" font-size="10.7" text-anchor="middle" fill="#000"  style="font-style:italic">105 E</text>
<text x="307.09999999999997" y="482.4" font-size="10.7" text-anchor="middle" fill="#000"  style="font-style:italic">110 E</text>
<text x="374.95" y="482.4" font-size="10.7" text-anchor="middle" fill="#000"  style="font-style:italic">115 E</text>
<text x="442.8" y="482.4" font-size="10.7" text-anchor="middle" fill="#000"  style="font-style:italic">120 E</text>
<text x="510.65000000000003" y="482.4" font-size="10.7" text-anchor="middle" fill="#000"  style="font-style:italic">125 E</text>
<text x="578.5" y="482.4" font-size="10.7" text-anchor="middle" fill="#000"  style="font-style:italic">130 E</text>
<text x="584" y="400.3" font-size="10.7" text-anchor="start" fill="#000"  style="font-style:italic">5 N</text>
<text x="584" y="332.3" font-size="10.7" text-anchor="start" fill="#000"  style="font-style:italic">10 N</text>
<text x="584" y="262.3" font-size="10.7" text-anchor="start" fill="#000"  style="font-style:italic">15 N</text>
<text x="584" y="191.3" font-size="10.7" text-anchor="start" fill="#000"  style="font-style:italic">20 N</text>
<text x="584" y="118.3" font-size="10.7" text-anchor="start" fill="#000"  style="font-style:italic">25 N</text>
<text x="584" y="41.199999999999996" font-size="10.7" text-anchor="start" fill="#000"  style="font-style:italic">30 N</text>
<text x="584" y="468.2" font-size="10.7" text-anchor="start" fill="#000"  style="font-style:italic">0</text>
<text x="154.5" y="496" font-size="11.2" text-anchor="start" fill="#000058"  style="">oceanweather inc.</text>
<text x="576" y="494" font-size="8.5" text-anchor="end" fill="#000058" textLength="118" lengthAdjust="spacingAndGlyphs" style="font-style:italic;font-weight:bold">Plotted at Nov 22, 2019 14:40 GMT</text>
<text x="365" y="509" font-size="9.5" text-anchor="middle" fill="#000058"  style="">Significant Wave Height (Meters)</text>
<text x="365" y="557" font-size="9.5" text-anchor="middle" fill="#000058"  style="">Significant Wave Height (Feet)</text>
<text x="245.8" y="521" font-size="9.5" text-anchor="middle" fill="#000058"  style="">0</text>
<text x="265.87" y="521" font-size="9.5" text-anchor="middle" fill="#000058"  style="">1</text>
<text x="285.94" y="521" font-size="9.5" text-anchor="middle" fill="#000058"  style="">2</text>
<text x="306.01" y="521" font-size="9.5" text-anchor="middle" fill="#000058"  style="">3</text>
<text x="326.08000000000004" y="521" font-size="9.5" text-anchor="middle" fill="#000058"  style="">4</text>
<text x="346.15" y="521" font-size="9.5" text-anchor="middle" fill="#000058"  style="">5</text>
<text x="366.22" y="521" font-size="9.5" text-anchor="middle" fill="#000058"  style="">6</text>
<text x="386.29" y="521" font-size="9.5" text-anchor="middle" fill="#000058"  style="">7</text>
<text x="406.36" y="521" font-size="9.5" text-anchor="middle" fill="#000058"  style="">8</text>
<text x="426.43" y="521" font-size="9.5" text-anchor="middle" fill="#000058"  style="">9</text>
<text x="446.5" y="521" font-size="9.5" text-anchor="middle" fill="#000058"  style="">10</text>
<text x="466.57000000000005" y="521" font-size="9.5" text-anchor="middle" fill="#000058"  style="">11</text>
<text x="486.64" y="521" font-size="9.5" text-anchor="middle" fill="#000058"  style="">12</text>
<text x="246.0" y="545.5" font-size="9.5" text-anchor="middle" fill="#000058"  style="">0</text>
<text x="276.1" y="545.5" font-size="9.5" text-anchor="middle" fill="#000058"  style="">5</text>
<text x="306.2" y="545.5" font-size="9.5" text-anchor="middle" fill="#000058"  style="">10</text>
<text x="336.3" y="545.5" font-size="9.5" text-anchor="middle" fill="#000058"  style="">15</text>
<text x="366.4" y="545.5" font-size="9.5" text-anchor="middle" fill="#000058"  style="">20</text>
<text x="396.5" y="545.5" font-size="9.5" text-anchor="middle" fill="#000058"  style="">25</text>
<text x="426.6" y="545.5" font-size="9.5" text-anchor="middle" fill="#000058"  style="">30</text>
<text x="456.70000000000005" y="545.5" font-size="9.5" text-anchor="middle" fill="#000058"  style="">35</text>
<text x="486.8" y="545.5" font-size="9.5" text-anchor="middle" fill="#000058"  style="">40</text>
<rect x="245" y="524" width="241" height="12" fill="url(#cbar)"/><rect x="245" y="524" width="2" height="12" fill="#000"/>
</svg></body></html>
